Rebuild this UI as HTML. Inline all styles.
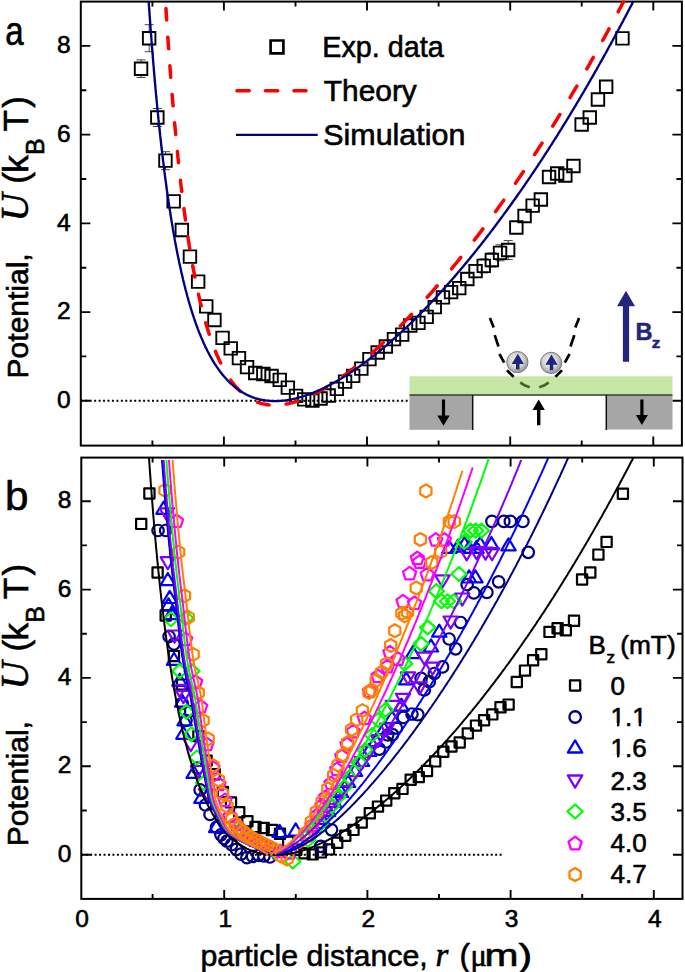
<!DOCTYPE html><html><head><meta charset="utf-8"><title>U(r)</title><style>html,body{margin:0;padding:0;background:#fff;overflow:hidden}svg{display:block}</style></head><body>
<svg width="685" height="972" viewBox="0 0 685 972" font-family="Liberation Sans, sans-serif">
<rect width="685" height="972" fill="#fff"/>
<path d="M80.8,400.8H408" stroke="#000" stroke-width="2" stroke-dasharray="2 2.45" fill="none"/>
<rect x="80.8" y="1.6" width="601.1" height="444.0" fill="none" stroke="#000" stroke-width="2"/>
<path d="M152.4,445.6v-5M152.4,1.6v5M223.9,445.6v-9M223.9,1.6v9M295.5,445.6v-5M295.5,1.6v5M367.0,445.6v-9M367.0,1.6v9M438.6,445.6v-5M438.6,1.6v5M510.2,445.6v-9M510.2,1.6v9M581.7,445.6v-5M581.7,1.6v5M653.3,445.6v-9M653.3,1.6v9M80.8,400.8h9.5M681.9,400.8h-9.5M80.8,356.4h5.5M681.9,356.4h-5.5M80.8,312.1h9.5M681.9,312.1h-9.5M80.8,267.7h5.5M681.9,267.7h-5.5M80.8,223.4h9.5M681.9,223.4h-9.5M80.8,179.0h5.5M681.9,179.0h-5.5M80.8,134.6h9.5M681.9,134.6h-9.5M80.8,90.3h5.5M681.9,90.3h-5.5M80.8,45.9h9.5M681.9,45.9h-9.5" stroke="#000" stroke-width="1.9" fill="none"/>
<rect x="81.3" y="457.6" width="601.2" height="441.3" fill="none" stroke="#000" stroke-width="2"/>
<path d="M152.6,898.9v-5M152.6,457.6v5M224.2,898.9v-9M224.2,457.6v9M295.8,898.9v-5M295.8,457.6v5M367.4,898.9v-9M367.4,457.6v9M439.0,898.9v-5M439.0,457.6v5M510.6,898.9v-9M510.6,457.6v9M582.2,898.9v-5M582.2,457.6v5M653.8,898.9v-9M653.8,457.6v9M81.3,854.7h9.5M682.5,854.7h-9.5M81.3,810.5h5.5M682.5,810.5h-5.5M81.3,766.3h9.5M682.5,766.3h-9.5M81.3,722.1h5.5M682.5,722.1h-5.5M81.3,677.9h9.5M682.5,677.9h-9.5M81.3,633.8h5.5M682.5,633.8h-5.5M81.3,589.6h9.5M682.5,589.6h-9.5M81.3,545.4h5.5M682.5,545.4h-5.5M81.3,501.2h9.5M682.5,501.2h-9.5" stroke="#000" stroke-width="1.9" fill="none"/>
<text stroke="#000" stroke-width="0.6" x="70.6" y="408.0" font-size="24.5" text-anchor="end">0</text>
<text stroke="#000" stroke-width="0.6" x="71.3" y="861.6" font-size="24.5" text-anchor="end">0</text>
<text stroke="#000" stroke-width="0.6" x="70.6" y="319.3" font-size="24.5" text-anchor="end">2</text>
<text stroke="#000" stroke-width="0.6" x="71.3" y="773.2" font-size="24.5" text-anchor="end">2</text>
<text stroke="#000" stroke-width="0.6" x="70.6" y="230.6" font-size="24.5" text-anchor="end">4</text>
<text stroke="#000" stroke-width="0.6" x="71.3" y="684.8" font-size="24.5" text-anchor="end">4</text>
<text stroke="#000" stroke-width="0.6" x="70.6" y="141.8" font-size="24.5" text-anchor="end">6</text>
<text stroke="#000" stroke-width="0.6" x="71.3" y="596.5" font-size="24.5" text-anchor="end">6</text>
<text stroke="#000" stroke-width="0.6" x="70.6" y="53.1" font-size="24.5" text-anchor="end">8</text>
<text stroke="#000" stroke-width="0.6" x="71.3" y="508.1" font-size="24.5" text-anchor="end">8</text>
<text stroke="#000" stroke-width="0.6" x="82.0" y="927.4" font-size="24.5" text-anchor="middle">0</text>
<text stroke="#000" stroke-width="0.6" x="225.2" y="927.4" font-size="24.5" text-anchor="middle">1</text>
<text stroke="#000" stroke-width="0.6" x="368.4" y="927.4" font-size="24.5" text-anchor="middle">2</text>
<text stroke="#000" stroke-width="0.6" x="511.6" y="927.4" font-size="24.5" text-anchor="middle">3</text>
<text stroke="#000" stroke-width="0.6" x="654.8" y="927.4" font-size="24.5" text-anchor="middle">4</text>
<text stroke="#000" stroke-width="0.6" x="5.2" y="45" font-size="40" textLength="18.4" lengthAdjust="spacingAndGlyphs">a</text>
<text stroke="#000" stroke-width="0.6" x="5" y="509.5" font-size="40.5" textLength="23.5" lengthAdjust="spacingAndGlyphs">b</text>
<g transform="translate(28,374.8) rotate(-90)"><text stroke="#000" stroke-width="0.6" x="-3.6" y="0" font-size="30">Potential,</text><text stroke="#000" stroke-width="0.6" x="153.2" y="0" font-size="39" font-family="Liberation Serif" font-style="italic">U</text><text stroke="#000" stroke-width="0.6" x="191.1" y="0" font-size="35">(</text><text stroke="#000" stroke-width="0.6" x="202.0" y="0" font-size="35">k</text><text stroke="#000" stroke-width="0.6" x="219.8" y="15.5" font-size="25">B</text><text stroke="#000" stroke-width="0.6" x="243.4" y="0" font-size="35">T</text><text stroke="#000" stroke-width="0.6" x="267" y="0" font-size="35">)</text></g>
<g transform="translate(28,842.6) rotate(-90)"><text stroke="#000" stroke-width="0.6" x="-3.6" y="0" font-size="30">Potential,</text><text stroke="#000" stroke-width="0.6" x="153.2" y="0" font-size="39" font-family="Liberation Serif" font-style="italic">U</text><text stroke="#000" stroke-width="0.6" x="191.1" y="0" font-size="35">(</text><text stroke="#000" stroke-width="0.6" x="202.0" y="0" font-size="35">k</text><text stroke="#000" stroke-width="0.6" x="219.8" y="15.5" font-size="25">B</text><text stroke="#000" stroke-width="0.6" x="243.4" y="0" font-size="35">T</text><text stroke="#000" stroke-width="0.6" x="267" y="0" font-size="35">)</text></g>
<text stroke="#000" stroke-width="0.6" x="200.4" y="965.5" font-size="30.3">particle distance,</text>
<text stroke="#000" stroke-width="0.6" x="435.4" y="965.5" font-size="33" font-family="Liberation Serif" font-style="italic">r</text>
<text stroke="#000" stroke-width="0.6" x="459.6" y="965.5" font-size="31.5">(</text>
<text stroke="#000" stroke-width="0.6" x="470.5" y="965.5" font-size="30.5" font-family="Liberation Serif">μ</text>
<text stroke="#000" stroke-width="0.6" x="484.6" y="965.5" font-size="31.5" textLength="47.5" lengthAdjust="spacingAndGlyphs">m)</text>
<path d="M141.0,59.9V62.5M141.0,75.0V77.5M136.5,59.9h9M136.5,77.5h9M149.2,24.7V32.0M149.2,44.5V51.7M144.7,24.7h9M144.7,51.7h9M157.3,108.5V111.2M157.3,123.8V126.5M152.8,108.5h9M152.8,126.5h9M165.5,151.7V154.4M165.5,166.9V169.7M161.0,151.7h9M161.0,169.7h9M451.1,286.2V285.9M451.1,298.4V298.2M446.6,286.2h9M446.6,298.2h9M459.2,282.2V281.9M459.2,294.4V294.2M454.7,282.2h9M454.7,294.2h9M467.4,273.0V272.8M467.4,285.2V285.0M462.9,273.0h9M462.9,285.0h9M475.6,265.2V264.9M475.6,277.4V277.2M471.1,265.2h9M471.1,277.2h9M483.7,258.9V259.6M483.7,272.1V272.9M479.2,258.9h9M479.2,272.9h9M491.9,253.0V253.8M491.9,266.2V267.0M487.4,253.0h9M487.4,267.0h9M500.0,244.8V246.6M500.0,259.1V260.8M495.5,244.8h9M495.5,260.8h9M508.2,240.6V243.8M508.2,256.4V259.6M503.7,240.6h9M503.7,259.6h9" stroke="#444" stroke-width="1" fill="none"/>
<path d="M134.8,62.5h12.5v12.5h-12.5zM142.9,32.0h12.5v12.5h-12.5zM151.1,111.2h12.5v12.5h-12.5zM159.2,154.4h12.5v12.5h-12.5zM167.4,195.1h12.5v12.5h-12.5zM175.6,223.8h12.5v12.5h-12.5zM183.7,250.4h12.5v12.5h-12.5zM191.9,275.4h12.5v12.5h-12.5zM200.0,300.1h12.5v12.5h-12.5zM208.2,313.8h12.5v12.5h-12.5zM216.3,331.6h12.5v12.5h-12.5zM224.5,342.1h12.5v12.5h-12.5zM232.7,351.9h12.5v12.5h-12.5zM240.8,360.9h12.5v12.5h-12.5zM249.0,366.8h12.5v12.5h-12.5zM257.1,367.8h12.5v12.5h-12.5zM265.3,369.8h12.5v12.5h-12.5zM273.5,373.6h12.5v12.5h-12.5zM281.6,381.4h12.5v12.5h-12.5zM289.8,389.6h12.5v12.5h-12.5zM297.9,393.1h12.5v12.5h-12.5zM306.1,394.2h12.5v12.5h-12.5zM314.3,392.2h12.5v12.5h-12.5zM322.4,389.2h12.5v12.5h-12.5zM330.6,382.6h12.5v12.5h-12.5zM338.8,375.4h12.5v12.5h-12.5zM346.9,369.6h12.5v12.5h-12.5zM355.1,362.4h12.5v12.5h-12.5zM363.2,352.9h12.5v12.5h-12.5zM371.4,346.2h12.5v12.5h-12.5zM379.6,340.2h12.5v12.5h-12.5zM387.7,332.9h12.5v12.5h-12.5zM395.9,328.4h12.5v12.5h-12.5zM404.0,319.2h12.5v12.5h-12.5zM412.2,316.6h12.5v12.5h-12.5zM420.4,310.6h12.5v12.5h-12.5zM428.5,300.9h12.5v12.5h-12.5zM436.7,291.1h12.5v12.5h-12.5zM444.8,285.9h12.5v12.5h-12.5zM453.0,281.9h12.5v12.5h-12.5zM461.1,272.8h12.5v12.5h-12.5zM469.3,264.9h12.5v12.5h-12.5zM477.5,259.6h12.5v12.5h-12.5zM485.6,253.8h12.5v12.5h-12.5zM493.8,246.6h12.5v12.5h-12.5zM501.9,243.8h12.5v12.5h-12.5zM510.1,221.2h12.5v12.5h-12.5zM518.3,209.8h12.5v12.5h-12.5zM526.4,199.4h12.5v12.5h-12.5zM534.6,193.2h12.5v12.5h-12.5zM542.8,170.8h12.5v12.5h-12.5zM550.9,167.2h12.5v12.5h-12.5zM559.1,169.2h12.5v12.5h-12.5zM567.2,159.8h12.5v12.5h-12.5zM575.4,118.2h12.5v12.5h-12.5zM583.5,111.2h12.5v12.5h-12.5zM591.7,93.2h12.5v12.5h-12.5zM599.9,80.5h12.5v12.5h-12.5zM616.2,32.1h12.5v12.5h-12.5z" stroke="#000" stroke-width="1.9" fill="none"/>
<path d="M166.0,8.6 L166.0,9.7 L166.1,10.7 L166.2,11.7 L166.2,12.9 L166.3,14.0 L166.4,15.1 L166.5,16.2 L166.5,17.3 L166.6,18.4 L166.7,19.5 L166.7,20.1M167.8,37.2 L167.9,38.2 L168.0,39.2 L168.1,40.3 L168.1,41.3 L168.2,42.3 L168.3,43.4 L168.3,44.4 L168.4,45.4 L168.5,46.4 L168.6,47.4 L168.6,48.4 L168.7,48.7M169.9,65.7 L170.0,66.8 L170.1,67.9 L170.1,69.0 L170.2,70.1 L170.3,71.1 L170.4,72.2 L170.5,73.3 L170.5,74.3 L170.6,75.4 L170.7,76.4 L170.8,77.2M172.1,94.4 L172.2,95.6 L172.3,96.7 L172.4,97.9 L172.5,99.0 L172.6,100.2 L172.7,101.3 L172.8,102.4 L172.9,103.6 L173.0,104.7 L173.1,105.8M174.6,122.8 L174.7,123.9 L174.8,124.9 L174.9,126.0 L175.0,127.0 L175.1,128.0 L175.2,129.1 L175.3,130.1 L175.4,131.1 L175.5,132.1 L175.6,133.1 L175.7,134.1 L175.7,134.4M177.4,151.5 L177.5,152.7 L177.6,153.8 L177.7,154.9 L177.8,156.0 L177.9,157.1 L178.0,158.2 L178.2,159.3 L178.3,160.4 L178.4,161.5 L178.5,162.5 L178.5,162.8M180.5,180.2 L180.6,181.5 L180.7,182.7 L180.9,184.0 L181.0,185.2 L181.2,186.4 L181.3,187.6 L181.5,188.8 L181.6,190.0 L181.7,191.2 L181.8,191.4M183.9,208.6 L184.1,209.6 L184.2,210.7 L184.4,211.8 L184.5,212.9 L184.6,213.9 L184.8,215.0 L184.9,216.1 L185.1,217.1 L185.2,218.1 L185.4,219.2 L185.5,220.0M188.0,237.1 L188.1,238.2 L188.3,239.3 L188.5,240.3 L188.6,241.4 L188.8,242.4 L189.0,243.5 L189.1,244.5 L189.3,245.5 L189.4,246.5 L189.6,247.5 L189.8,248.6M192.7,265.8 L192.9,266.8 L193.1,267.9 L193.3,268.9 L193.5,269.9 L193.7,270.9 L193.9,271.9 L194.1,273.0 L194.3,274.2 L194.5,275.4 L194.8,276.5 L194.9,277.1M198.5,294.3 L198.7,295.4 L199.0,296.4 L199.2,297.4 L199.5,298.6 L199.8,299.9 L200.0,301.1 L200.3,302.3 L200.6,303.5 L200.9,304.7 L201.2,305.8M205.7,322.9 L206.1,324.1 L206.4,325.2 L206.8,326.4 L207.1,327.5 L207.5,328.7 L207.8,329.8 L208.1,330.9 L208.5,332.0 L208.8,333.0 L209.2,334.1 L209.3,334.3M215.5,351.4 L215.9,352.5 L216.4,353.6 L216.8,354.7 L217.3,355.7 L217.8,356.8 L218.2,357.8 L218.7,358.8 L219.2,360.0 L219.8,361.2 L220.4,362.4 L220.7,363.0M230.8,380.2 L231.7,381.5 L232.6,382.6 L233.5,383.7 L234.3,384.8 L235.2,385.8 L236.3,387.1 L237.4,388.3 L238.5,389.5 L239.7,390.6 L240.4,391.4M257.7,402.3 L258.9,402.7 L260.0,403.1 L261.1,403.4 L262.1,403.7 L263.1,403.9 L264.2,404.1 L265.2,404.3 L266.2,404.5 L267.3,404.7 L268.3,404.8 L269.1,404.9M286.1,404.1 L287.1,403.9 L288.1,403.7 L289.2,403.4 L290.2,403.2 L291.2,402.9 L292.3,402.7 L293.3,402.4 L294.3,402.1 L295.4,401.8 L296.4,401.5 L297.5,401.1M314.7,393.8 L315.9,393.2 L317.0,392.6 L318.1,392.0 L319.3,391.3 L320.4,390.7 L321.6,390.1 L322.7,389.4 L323.9,388.7 L325.0,388.1 L326.2,387.4M343.2,376.0 L344.2,375.3 L345.2,374.6 L346.2,373.8 L347.2,373.1 L348.2,372.3 L349.2,371.6 L350.2,370.8 L351.2,370.0 L352.2,369.3 L353.2,368.5 L354.2,367.7 L354.7,367.3M371.8,353.1 L372.8,352.2 L373.8,351.3 L374.8,350.4 L375.8,349.5 L376.8,348.6 L377.8,347.7 L378.8,346.8 L379.8,345.8 L380.8,344.9 L381.8,344.0 L382.8,343.1 L383.3,342.6M400.3,326.0 L401.5,324.8 L402.6,323.7 L403.7,322.5 L404.9,321.3 L406.0,320.1 L407.2,318.9 L408.3,317.7 L409.5,316.5 L410.6,315.3 L411.5,314.4M427.2,297.3 L428.4,296.0 L429.5,294.7 L430.7,293.4 L431.8,292.1 L433.0,290.8 L434.1,289.5 L435.2,288.1 L436.4,286.8 L437.2,285.8M451.6,268.8 L452.4,267.8 L453.3,266.7 L454.1,265.7 L455.0,264.6 L455.9,263.5 L456.7,262.5 L457.6,261.4 L458.4,260.4 L459.3,259.3 L460.2,258.2 L460.8,257.4M474.3,240.1 L475.2,239.0 L476.0,237.9 L476.9,236.8 L477.8,235.6 L478.6,234.5 L479.5,233.4 L480.3,232.2 L481.2,231.1 L482.1,229.9 L482.9,228.8M495.6,211.6 L496.5,210.3 L497.5,208.9 L498.4,207.6 L499.2,206.5 L499.9,205.5 L500.6,204.5 L501.3,203.5 L502.1,202.5 L502.8,201.5 L503.5,200.5 L503.7,200.2M515.5,183.2 L516.2,182.2 L516.9,181.1 L517.6,180.1 L518.3,179.0 L519.1,178.0 L519.8,176.9 L520.5,175.9 L521.2,174.8 L521.9,173.7 L522.6,172.7 L523.4,171.6M534.6,154.5 L535.3,153.4 L536.1,152.3 L536.8,151.2 L537.5,150.1 L538.2,149.0 L538.9,147.9 L539.6,146.8 L540.4,145.7 L541.1,144.6 L541.8,143.4 L542.0,143.2M552.7,126.1 L553.4,125.0 L554.1,123.8 L554.8,122.7 L555.6,121.5 L556.3,120.3 L557.0,119.2 L557.7,118.0 L558.4,116.8 L559.1,115.7 L559.9,114.5M570.1,97.6 L570.8,96.4 L571.5,95.2 L572.2,94.0 L572.9,92.7 L573.6,91.5 L574.4,90.3 L575.1,89.1 L575.8,87.9 L576.5,86.7 L576.9,86.1M586.8,68.8 L587.4,67.8 L588.0,66.8 L588.6,65.8 L589.1,64.8 L589.7,63.8 L590.3,62.7 L590.9,61.7 L591.4,60.7 L592.0,59.7 L592.6,58.7 L593.1,57.7 L593.3,57.4M602.7,40.4 L603.3,39.4 L603.9,38.3 L604.5,37.3 L605.0,36.3 L605.6,35.2 L606.2,34.2 L606.7,33.1 L607.3,32.1 L607.9,31.0 L608.5,29.9 L609.0,28.9M618.2,11.8 L618.8,10.7 L619.3,9.6 L619.9,8.5 L620.5,7.5 L621.1,6.4 L621.6,5.3 L622.2,4.2 L622.8,3.1 L623.4,2.0" fill="none" stroke="#f00" stroke-width="3.5" stroke-linecap="round"/>
<path d="M148.7,2.0 L148.9,5.1 L149.1,7.2 L149.2,9.2 L149.4,11.3 L149.5,13.3 L149.6,15.3 L149.8,17.3 L149.9,19.3 L150.1,21.3 L150.2,23.3 L150.4,25.2 L150.5,27.2 L150.6,29.1 L150.8,31.0 L150.9,32.9 L151.1,34.8 L151.2,36.7 L151.4,38.6 L151.5,40.4 L151.7,42.3 L151.8,44.1 L151.9,46.0 L152.1,47.8 L152.2,49.6 L152.4,51.4 L152.5,53.2 L152.7,54.9 L152.8,56.7 L152.9,58.5 L153.1,60.2 L153.2,61.9 L153.4,63.7 L153.5,65.4 L153.7,67.1 L153.8,68.8 L153.9,70.5 L154.1,72.2 L154.2,73.8 L154.4,75.5 L154.5,77.1 L154.7,78.8 L154.8,80.4 L154.9,82.0 L155.1,83.6 L155.2,85.2 L155.4,86.8 L155.5,88.4 L155.7,90.0 L155.8,91.5 L155.9,93.1 L156.1,94.6 L156.2,96.2 L156.4,97.7 L156.5,99.2 L156.7,100.7 L156.8,102.2 L156.9,103.7 L157.1,105.2 L157.2,106.7 L157.4,108.2 L157.5,109.6 L157.7,111.1 L157.8,112.5 L158.0,114.0 L158.1,115.4 L158.2,116.8 L158.4,118.2 L158.5,119.7 L158.7,121.1 L158.8,122.4 L159.0,123.8 L159.1,125.2 L159.2,126.6 L159.4,127.9 L159.5,129.3 L159.7,130.6 L159.8,132.0 L160.0,133.3 L160.1,134.6 L160.2,135.9 L160.4,137.3 L160.5,138.6 L160.7,139.9 L160.8,141.1 L161.0,142.4 L161.1,143.7 L161.2,145.0 L161.4,146.2 L161.5,147.5 L161.7,148.7 L161.8,150.0 L162.0,151.2 L162.1,152.4 L162.2,153.7 L162.4,154.9 L162.5,156.1 L162.7,157.3 L162.8,158.5 L163.1,160.9 L163.4,163.2 L163.7,165.5 L164.0,167.8 L164.2,170.1 L164.5,172.4 L164.8,174.6 L165.1,176.8 L165.4,179.0 L165.7,181.2 L166.0,183.3 L166.3,185.4 L166.5,187.5 L166.8,189.6 L167.1,191.7 L167.4,193.7 L167.7,195.7 L168.0,197.7 L168.3,199.7 L168.5,201.6 L168.8,203.5 L169.1,205.5 L169.4,207.4 L169.7,209.2 L170.0,211.1 L170.3,212.9 L170.5,214.8 L170.8,216.6 L171.1,218.3 L171.4,220.1 L171.7,221.9 L172.0,223.6 L172.3,225.3 L172.6,227.0 L172.8,228.7 L173.1,230.4 L173.4,232.0 L173.7,233.7 L174.0,235.3 L174.3,236.9 L174.6,238.5 L174.8,240.0 L175.1,241.6 L175.4,243.1 L175.7,244.7 L176.0,246.2 L176.3,247.7 L176.6,249.2 L176.8,250.6 L177.1,252.1 L177.4,253.5 L177.7,255.0 L178.0,256.4 L178.3,257.8 L178.6,259.2 L178.9,260.6 L179.1,261.9 L179.4,263.3 L179.7,264.6 L180.0,266.0 L180.3,267.3 L180.6,268.6 L180.9,269.9 L181.1,271.1 L181.4,272.4 L181.7,273.7 L182.0,274.9 L182.3,276.1 L182.6,277.4 L182.9,278.6 L183.1,279.8 L183.4,281.0 L183.7,282.1 L184.0,283.3 L184.4,285.0 L184.9,286.7 L185.3,288.4 L185.7,290.1 L186.2,291.7 L186.6,293.3 L187.0,294.9 L187.4,296.5 L187.9,298.1 L188.3,299.6 L188.7,301.1 L189.2,302.6 L189.6,304.1 L190.0,305.5 L190.4,307.0 L190.9,308.4 L191.3,309.8 L191.7,311.2 L192.2,312.5 L192.6,313.9 L193.0,315.2 L193.5,316.5 L193.9,317.8 L194.3,319.0 L194.7,320.3 L195.2,321.5 L195.6,322.8 L196.0,324.0 L196.5,325.2 L196.9,326.3 L197.3,327.5 L197.7,328.6 L198.2,329.8 L198.7,331.2 L199.3,332.7 L199.9,334.1 L200.5,335.5 L201.0,336.9 L201.6,338.3 L202.2,339.6 L202.8,340.9 L203.3,342.2 L203.9,343.5 L204.5,344.7 L205.0,346.0 L205.6,347.2 L206.2,348.4 L206.8,349.5 L207.3,350.7 L207.9,351.8 L208.5,352.9 L209.1,354.0 L209.6,355.0 L210.3,356.3 L211.1,357.6 L211.8,358.9 L212.5,360.1 L213.2,361.3 L213.9,362.5 L214.6,363.6 L215.4,364.7 L216.1,365.8 L216.8,366.9 L217.5,367.9 L218.2,368.9 L218.9,369.9 L219.7,370.9 L220.5,372.1 L221.4,373.2 L222.2,374.3 L223.1,375.3 L223.9,376.3 L224.8,377.3 L225.7,378.3 L226.5,379.2 L227.4,380.1 L228.2,381.0 L229.1,381.9 L230.1,382.9 L231.1,383.8 L232.1,384.7 L233.1,385.6 L234.1,386.4 L235.1,387.3 L236.1,388.0 L237.1,388.8 L238.1,389.5 L239.1,390.2 L240.1,390.9 L241.3,391.6 L242.4,392.3 L243.6,393.0 L244.7,393.6 L245.8,394.3 L247.0,394.8 L248.1,395.4 L249.3,395.9 L250.4,396.4 L251.6,396.8 L252.7,397.3 L253.9,397.7 L255.0,398.1 L256.3,398.5 L257.6,398.8 L258.9,399.2 L260.2,399.5 L261.5,399.8 L262.7,400.0 L264.0,400.2 L265.3,400.4 L266.6,400.6 L267.9,400.7 L269.2,400.9 L270.5,400.9 L271.8,401.0 L273.0,401.1 L274.3,401.1 L275.6,401.1 L276.9,401.1 L278.2,401.0 L279.5,400.9 L280.8,400.8 L282.1,400.7 L283.4,400.6 L284.6,400.5 L285.9,400.3 L287.2,400.1 L288.5,399.9 L289.8,399.7 L291.1,399.4 L292.4,399.2 L293.7,398.9 L295.0,398.6 L296.2,398.3 L297.5,397.9 L298.8,397.6 L300.1,397.2 L301.4,396.9 L302.7,396.5 L303.8,396.1 L305.0,395.7 L306.1,395.3 L307.3,394.9 L308.4,394.5 L309.6,394.1 L310.7,393.7 L311.8,393.2 L313.0,392.8 L314.1,392.3 L315.3,391.8 L316.4,391.3 L317.6,390.9 L318.7,390.3 L319.9,389.8 L321.0,389.3 L322.1,388.8 L323.3,388.2 L324.4,387.7 L325.6,387.1 L326.7,386.5 L327.9,385.9 L329.0,385.3 L330.2,384.7 L331.3,384.1 L332.5,383.5 L333.6,382.9 L334.7,382.2 L335.9,381.6 L337.0,380.9 L338.2,380.3 L339.3,379.6 L340.5,378.9 L341.6,378.2 L342.8,377.5 L343.9,376.8 L345.1,376.1 L346.2,375.4 L347.3,374.7 L348.5,373.9 L349.6,373.2 L350.8,372.4 L351.8,371.7 L352.8,371.1 L353.8,370.4 L354.8,369.7 L355.8,369.0 L356.8,368.3 L357.8,367.6 L358.8,366.9 L359.8,366.2 L360.8,365.5 L361.8,364.8 L362.8,364.0 L363.8,363.3 L364.8,362.6 L365.8,361.8 L366.8,361.1 L367.8,360.3 L368.8,359.5 L369.8,358.8 L370.8,358.0 L371.8,357.2 L372.8,356.4 L373.8,355.7 L374.8,354.9 L375.8,354.1 L376.8,353.3 L377.8,352.5 L378.8,351.6 L379.8,350.8 L380.8,350.0 L381.8,349.2 L382.8,348.3 L383.9,347.5 L384.9,346.7 L385.9,345.8 L386.9,345.0 L387.9,344.1 L388.9,343.2 L389.9,342.4 L390.9,341.5 L391.9,340.6 L392.9,339.7 L393.9,338.8 L394.9,337.9 L395.9,337.0 L396.9,336.1 L397.9,335.2 L398.9,334.3 L399.9,333.4 L400.9,332.5 L401.9,331.6 L402.9,330.6 L403.9,329.7 L404.9,328.8 L405.9,327.8 L406.9,326.9 L407.9,325.9 L408.9,325.0 L409.9,324.0 L410.9,323.0 L411.9,322.1 L412.9,321.1 L413.8,320.2 L414.6,319.4 L415.5,318.5 L416.3,317.7 L417.2,316.8 L418.1,316.0 L418.9,315.1 L419.8,314.3 L420.6,313.4 L421.5,312.5 L422.4,311.6 L423.2,310.8 L424.1,309.9 L424.9,309.0 L425.8,308.1 L426.7,307.2 L427.5,306.3 L428.4,305.4 L429.2,304.5 L430.1,303.6 L430.9,302.7 L431.8,301.8 L432.7,300.9 L433.5,300.0 L434.4,299.1 L435.2,298.2 L436.1,297.2 L437.0,296.3 L437.8,295.4 L438.7,294.4 L439.5,293.5 L440.4,292.6 L441.3,291.6 L442.1,290.7 L443.0,289.7 L443.8,288.8 L444.7,287.8 L445.6,286.8 L446.4,285.9 L447.3,284.9 L448.1,283.9 L449.0,283.0 L449.8,282.0 L450.7,281.0 L451.6,280.0 L452.4,279.0 L453.3,278.1 L454.1,277.1 L455.0,276.1 L455.9,275.1 L456.7,274.1 L457.6,273.1 L458.4,272.1 L459.3,271.1 L460.2,270.0 L461.0,269.0 L461.9,268.0 L462.7,267.0 L463.6,266.0 L464.4,264.9 L465.3,263.9 L466.2,262.9 L467.0,261.8 L467.9,260.8 L468.7,259.7 L469.6,258.7 L470.5,257.6 L471.3,256.6 L472.2,255.5 L473.0,254.5 L473.9,253.4 L474.8,252.3 L475.6,251.3 L476.5,250.2 L477.3,249.1 L478.2,248.0 L479.0,247.0 L479.9,245.9 L480.8,244.8 L481.6,243.7 L482.5,242.6 L483.3,241.5 L484.2,240.4 L485.1,239.3 L485.9,238.2 L486.8,237.1 L487.6,236.0 L488.5,234.8 L489.4,233.7 L490.2,232.6 L491.1,231.5 L491.9,230.4 L492.8,229.2 L493.7,228.1 L494.5,226.9 L495.4,225.8 L496.2,224.7 L497.1,223.5 L497.9,222.4 L498.8,221.2 L499.5,220.3 L500.2,219.3 L501.0,218.3 L501.7,217.3 L502.4,216.4 L503.1,215.4 L503.8,214.4 L504.5,213.4 L505.2,212.5 L506.0,211.5 L506.7,210.5 L507.4,209.5 L508.1,208.5 L508.8,207.5 L509.5,206.5 L510.3,205.5 L511.0,204.5 L511.7,203.5 L512.4,202.5 L513.1,201.5 L513.8,200.5 L514.6,199.5 L515.3,198.5 L516.0,197.5 L516.7,196.5 L517.4,195.5 L518.1,194.4 L518.8,193.4 L519.6,192.4 L520.3,191.4 L521.0,190.3 L521.7,189.3 L522.4,188.3 L523.1,187.2 L523.9,186.2 L524.6,185.2 L525.3,184.1 L526.0,183.1 L526.7,182.0 L527.4,181.0 L528.2,179.9 L528.9,178.9 L529.6,177.8 L530.3,176.8 L531.0,175.7 L531.7,174.7 L532.4,173.6 L533.2,172.5 L533.9,171.5 L534.6,170.4 L535.3,169.3 L536.0,168.3 L536.7,167.2 L537.5,166.1 L538.2,165.0 L538.9,163.9 L539.6,162.8 L540.3,161.8 L541.0,160.7 L541.8,159.6 L542.5,158.5 L543.2,157.4 L543.9,156.3 L544.6,155.2 L545.3,154.1 L546.0,153.0 L546.8,151.9 L547.5,150.8 L548.2,149.7 L548.9,148.5 L549.6,147.4 L550.3,146.3 L551.1,145.2 L551.8,144.1 L552.5,142.9 L553.2,141.8 L553.9,140.7 L554.6,139.6 L555.4,138.4 L556.1,137.3 L556.8,136.2 L557.5,135.0 L558.2,133.9 L558.9,132.7 L559.6,131.6 L560.4,130.4 L561.1,129.3 L561.8,128.1 L562.5,127.0 L563.2,125.8 L563.9,124.7 L564.7,123.5 L565.4,122.3 L566.1,121.2 L566.8,120.0 L567.5,118.8 L568.2,117.6 L569.0,116.5 L569.7,115.3 L570.4,114.1 L571.1,112.9 L571.8,111.7 L572.5,110.6 L573.2,109.4 L574.0,108.2 L574.7,107.0 L575.4,105.8 L576.1,104.6 L576.8,103.4 L577.5,102.2 L578.3,101.0 L579.0,99.8 L579.7,98.6 L580.4,97.4 L581.1,96.1 L581.8,94.9 L582.6,93.7 L583.3,92.5 L584.0,91.3 L584.7,90.0 L585.4,88.8 L586.1,87.6 L586.8,86.3 L587.6,85.1 L588.3,83.9 L589.0,82.6 L589.7,81.4 L590.4,80.1 L591.1,78.9 L591.9,77.7 L592.6,76.4 L593.3,75.1 L594.0,73.9 L594.7,72.6 L595.4,71.4 L596.2,70.1 L596.9,68.9 L597.6,67.6 L598.3,66.3 L599.0,65.0 L599.7,63.8 L600.4,62.5 L601.2,61.2 L601.9,59.9 L602.6,58.7 L603.3,57.4 L604.0,56.1 L604.7,54.8 L605.5,53.5 L606.2,52.2 L606.9,50.9 L607.6,49.6 L608.3,48.3 L609.0,47.0 L609.7,45.7 L610.5,44.4 L611.2,43.1 L611.9,41.8 L612.6,40.5 L613.3,39.1 L613.9,38.1 L614.5,37.0 L615.0,36.0 L615.6,34.9 L616.2,33.8 L616.8,32.8 L617.3,31.7 L617.9,30.6 L618.5,29.6 L619.1,28.5 L619.6,27.4 L620.2,26.4 L620.8,25.3 L621.3,24.2 L621.9,23.1 L622.5,22.1 L623.1,21.0 L623.6,19.9 L624.2,18.8 L624.8,17.7 L625.4,16.6 L625.9,15.6 L626.5,14.5 L627.1,13.4 L627.6,12.3 L628.2,11.2 L628.8,10.1 L629.4,9.0 L629.9,7.9 L630.5,6.8 L631.1,5.7 L631.7,4.6 L632.2,3.5 L632.8,2.4 L633.0,2.0" fill="none" stroke="#000080" stroke-width="2.35"/>
<path d="M270.6,40.5h12.8v12.8h-12.8z" stroke="#000" stroke-width="2.7" fill="none"/>
<path d="M237,90.8H306" stroke="#f00" stroke-width="3.6" stroke-linecap="round" stroke-dasharray="12.2 16.3"/>
<path d="M236,134.9H317.7" stroke="#000080" stroke-width="2.35"/>
<text stroke="#000" stroke-width="0.6" x="322.3" y="57.2" font-size="29.5" textLength="121.5" lengthAdjust="spacingAndGlyphs">Exp. data</text>
<text stroke="#000" stroke-width="0.6" x="323.8" y="101" font-size="29.5" textLength="93" lengthAdjust="spacingAndGlyphs">Theory</text>
<text stroke="#000" stroke-width="0.6" x="323.3" y="145.3" font-size="29.5" textLength="142" lengthAdjust="spacingAndGlyphs">Simulation</text>
<rect x="409.5" y="376.3" width="263" height="18.2" fill="#c6e6a6"/>
<rect x="409.5" y="395.2" width="63.5" height="34.6" fill="#a6a6a6"/>
<rect x="606" y="395.2" width="66.5" height="34.3" fill="#a6a6a6"/>
<path d="M409.5,395H672.5" stroke="#2c3a26" stroke-width="1.5" fill="none"/>
<path d="M472.7,395V430M606.3,395V430" stroke="#111" stroke-width="1.5" fill="none"/>
<path d="M441.9,399.4V415.5H437.3L443.5,425.7L449.7,415.5H445.1V399.4z" fill="#000"/>
<path d="M640.3,399.4V415.0H635.9L641.9,424.9L647.9,415.0H643.5V399.4z" fill="#000"/>
<path d="M537.0,425.2V410.0H532.5L538.7,399.6L544.9,410.0H540.4V425.2z" fill="#000"/>
<path d="M622.9,361.8V306.3H617.0L626.0,290.7L635.0,306.3H629.1V361.8z" fill="#24247c"/>
<text stroke="#24247c" stroke-width="0.5" x="635.6" y="340.3" font-size="23.5" font-weight="bold" fill="#24247c">B</text>
<text stroke="#24247c" stroke-width="0.5" x="651.8" y="348" font-size="15" font-weight="bold" fill="#24247c" textLength="8.6" lengthAdjust="spacingAndGlyphs">z</text>
<path d="M489.9,318L493.7,327.5M494.7,335.1L498.5,346.5M499.4,354L504.2,362.6M507,370.2L513.6,376.9M579.1,318L575.3,327.5M574.3,335.1L570.5,346.5M569.6,354L564.8,362.6M562.0,370.2L555.4,376.9" fill="none" stroke="#000" stroke-width="2.7"/>
<path d="M520.3,382.5L525,385.6L529.8,387.3M548.7,382.5L544.0,385.6L539.2,387.3" fill="none" stroke="#3c6a26" stroke-width="2.7"/>
<defs><radialGradient id="sg" cx="0.45" cy="0.42" r="0.6"><stop offset="0" stop-color="#f6f6f6"/><stop offset="0.55" stop-color="#d6d6d6"/><stop offset="1" stop-color="#8e8e8e"/></radialGradient></defs>
<circle cx="517.4" cy="362.1" r="10.6" fill="url(#sg)" stroke="#7a7a7a" stroke-width="1"/>
<path d="M516.0,369.5V363.9H511.7L517.8,353.7L523.9,363.9H519.5V369.5z" fill="#22227f"/>
<circle cx="551.1" cy="362.9" r="10.6" fill="url(#sg)" stroke="#7a7a7a" stroke-width="1"/>
<path d="M549.8,370.3V364.7H545.4L551.5,354.5L557.6,364.7H553.2V370.3z" fill="#22227f"/>
<path d="M136.1,518.8h10.2v10.2h-10.2zM144.3,488.4h10.2v10.2h-10.2zM152.5,567.4h10.2v10.2h-10.2zM160.6,610.4h10.2v10.2h-10.2zM168.8,650.9h10.2v10.2h-10.2zM177.0,679.5h10.2v10.2h-10.2zM185.1,706.0h10.2v10.2h-10.2zM193.3,731.0h10.2v10.2h-10.2zM201.5,755.5h10.2v10.2h-10.2zM209.6,769.1h10.2v10.2h-10.2zM217.8,786.8h10.2v10.2h-10.2zM225.9,797.3h10.2v10.2h-10.2zM234.1,807.2h10.2v10.2h-10.2zM242.3,816.1h10.2v10.2h-10.2zM250.4,821.9h10.2v10.2h-10.2zM258.6,822.9h10.2v10.2h-10.2zM266.8,824.9h10.2v10.2h-10.2zM274.9,828.7h10.2v10.2h-10.2zM283.1,836.6h10.2v10.2h-10.2zM291.3,844.6h10.2v10.2h-10.2zM299.4,848.2h10.2v10.2h-10.2zM307.6,849.3h10.2v10.2h-10.2zM315.8,847.3h10.2v10.2h-10.2zM323.9,844.3h10.2v10.2h-10.2zM332.1,837.6h10.2v10.2h-10.2zM340.2,830.6h10.2v10.2h-10.2zM348.4,824.8h10.2v10.2h-10.2zM356.6,817.5h10.2v10.2h-10.2zM364.7,808.2h10.2v10.2h-10.2zM372.9,801.5h10.2v10.2h-10.2zM381.1,795.5h10.2v10.2h-10.2zM389.2,788.1h10.2v10.2h-10.2zM397.4,783.8h10.2v10.2h-10.2zM405.6,774.6h10.2v10.2h-10.2zM413.7,772.0h10.2v10.2h-10.2zM421.9,765.9h10.2v10.2h-10.2zM430.1,756.3h10.2v10.2h-10.2zM438.2,746.6h10.2v10.2h-10.2zM446.4,741.4h10.2v10.2h-10.2zM454.6,737.4h10.2v10.2h-10.2zM462.7,728.3h10.2v10.2h-10.2zM470.9,720.5h10.2v10.2h-10.2zM479.0,715.2h10.2v10.2h-10.2zM487.2,709.3h10.2v10.2h-10.2zM495.4,702.2h10.2v10.2h-10.2zM503.5,699.5h10.2v10.2h-10.2zM511.7,676.9h10.2v10.2h-10.2zM519.9,665.5h10.2v10.2h-10.2zM528.0,655.2h10.2v10.2h-10.2zM536.2,649.1h10.2v10.2h-10.2zM544.4,626.8h10.2v10.2h-10.2zM552.5,623.2h10.2v10.2h-10.2zM560.7,625.2h10.2v10.2h-10.2zM568.9,615.7h10.2v10.2h-10.2zM577.0,574.4h10.2v10.2h-10.2zM585.2,567.4h10.2v10.2h-10.2zM593.3,549.5h10.2v10.2h-10.2zM601.5,536.8h10.2v10.2h-10.2zM617.8,488.6h10.2v10.2h-10.2z" fill="none" stroke="#000" stroke-width="2.2" stroke-linejoin="round"/>
<path d="M152.3,530.5a5.75,5.75 0 1,0 11.5,0a5.75,5.75 0 1,0 -11.5,0zM159.9,530.5a5.75,5.75 0 1,0 11.5,0a5.75,5.75 0 1,0 -11.5,0zM163.3,636.5a5.75,5.75 0 1,0 11.5,0a5.75,5.75 0 1,0 -11.5,0zM168.2,644.0a5.75,5.75 0 1,0 11.5,0a5.75,5.75 0 1,0 -11.5,0zM176.4,703.3a5.75,5.75 0 1,0 11.5,0a5.75,5.75 0 1,0 -11.5,0zM180.2,720.5a5.75,5.75 0 1,0 11.5,0a5.75,5.75 0 1,0 -11.5,0zM191.7,768.1a5.75,5.75 0 1,0 11.5,0a5.75,5.75 0 1,0 -11.5,0zM194.4,789.9a5.75,5.75 0 1,0 11.5,0a5.75,5.75 0 1,0 -11.5,0zM199.7,805.0a5.75,5.75 0 1,0 11.5,0a5.75,5.75 0 1,0 -11.5,0zM204.3,814.4a5.75,5.75 0 1,0 11.5,0a5.75,5.75 0 1,0 -11.5,0zM210.8,827.4a5.75,5.75 0 1,0 11.5,0a5.75,5.75 0 1,0 -11.5,0zM215.2,834.8a5.75,5.75 0 1,0 11.5,0a5.75,5.75 0 1,0 -11.5,0zM218.2,838.5a5.75,5.75 0 1,0 11.5,0a5.75,5.75 0 1,0 -11.5,0zM221.2,841.2a5.75,5.75 0 1,0 11.5,0a5.75,5.75 0 1,0 -11.5,0zM225.9,844.7a5.75,5.75 0 1,0 11.5,0a5.75,5.75 0 1,0 -11.5,0zM230.7,849.4a5.75,5.75 0 1,0 11.5,0a5.75,5.75 0 1,0 -11.5,0zM235.3,854.1a5.75,5.75 0 1,0 11.5,0a5.75,5.75 0 1,0 -11.5,0zM241.2,857.6a5.75,5.75 0 1,0 11.5,0a5.75,5.75 0 1,0 -11.5,0zM246.9,856.4a5.75,5.75 0 1,0 11.5,0a5.75,5.75 0 1,0 -11.5,0zM252.9,855.3a5.75,5.75 0 1,0 11.5,0a5.75,5.75 0 1,0 -11.5,0zM258.2,856.0a5.75,5.75 0 1,0 11.5,0a5.75,5.75 0 1,0 -11.5,0zM264.2,857.0a5.75,5.75 0 1,0 11.5,0a5.75,5.75 0 1,0 -11.5,0zM314.9,846.3a5.75,5.75 0 1,0 11.5,0a5.75,5.75 0 1,0 -11.5,0zM325.8,829.8a5.75,5.75 0 1,0 11.5,0a5.75,5.75 0 1,0 -11.5,0zM373.6,749.1a5.75,5.75 0 1,0 11.5,0a5.75,5.75 0 1,0 -11.5,0zM380.2,742.0a5.75,5.75 0 1,0 11.5,0a5.75,5.75 0 1,0 -11.5,0zM386.8,734.7a5.75,5.75 0 1,0 11.5,0a5.75,5.75 0 1,0 -11.5,0zM381.9,735.0a5.75,5.75 0 1,0 11.5,0a5.75,5.75 0 1,0 -11.5,0zM390.6,728.0a5.75,5.75 0 1,0 11.5,0a5.75,5.75 0 1,0 -11.5,0zM397.6,717.5a5.75,5.75 0 1,0 11.5,0a5.75,5.75 0 1,0 -11.5,0zM406.2,714.0a5.75,5.75 0 1,0 11.5,0a5.75,5.75 0 1,0 -11.5,0zM412.1,714.6a5.75,5.75 0 1,0 11.5,0a5.75,5.75 0 1,0 -11.5,0zM418.6,689.9a5.75,5.75 0 1,0 11.5,0a5.75,5.75 0 1,0 -11.5,0zM423.6,681.7a5.75,5.75 0 1,0 11.5,0a5.75,5.75 0 1,0 -11.5,0zM415.4,678.4a5.75,5.75 0 1,0 11.5,0a5.75,5.75 0 1,0 -11.5,0zM428.6,673.5a5.75,5.75 0 1,0 11.5,0a5.75,5.75 0 1,0 -11.5,0zM436.8,666.9a5.75,5.75 0 1,0 11.5,0a5.75,5.75 0 1,0 -11.5,0zM443.4,639.0a5.75,5.75 0 1,0 11.5,0a5.75,5.75 0 1,0 -11.5,0zM449.9,648.8a5.75,5.75 0 1,0 11.5,0a5.75,5.75 0 1,0 -11.5,0zM454.9,622.5a5.75,5.75 0 1,0 11.5,0a5.75,5.75 0 1,0 -11.5,0zM461.4,584.7a5.75,5.75 0 1,0 11.5,0a5.75,5.75 0 1,0 -11.5,0zM468.1,592.9a5.75,5.75 0 1,0 11.5,0a5.75,5.75 0 1,0 -11.5,0zM481.1,592.4a5.75,5.75 0 1,0 11.5,0a5.75,5.75 0 1,0 -11.5,0zM492.9,581.8a5.75,5.75 0 1,0 11.5,0a5.75,5.75 0 1,0 -11.5,0zM486.2,521.4a5.75,5.75 0 1,0 11.5,0a5.75,5.75 0 1,0 -11.5,0zM498.1,521.4a5.75,5.75 0 1,0 11.5,0a5.75,5.75 0 1,0 -11.5,0zM504.6,521.4a5.75,5.75 0 1,0 11.5,0a5.75,5.75 0 1,0 -11.5,0zM517.1,521.4a5.75,5.75 0 1,0 11.5,0a5.75,5.75 0 1,0 -11.5,0zM522.5,552.3a5.75,5.75 0 1,0 11.5,0a5.75,5.75 0 1,0 -11.5,0z" fill="none" stroke="#000080" stroke-width="2.2" stroke-linejoin="round"/>
<path d="M163.5,501.7L170.7,513.8H156.3zM167.8,573.0L175.0,585.1H160.6zM169.7,590.9L176.9,603.0H162.5zM168.5,598.3L175.7,610.4H161.3zM171.5,607.0L178.7,619.1H164.3zM174.0,652.7L181.2,664.8H166.8zM179.7,673.7L186.9,685.8H172.5zM182.2,694.6L189.4,706.7H175.0zM184.6,713.2L191.8,725.3H177.4zM183.4,726.7L190.6,738.8H176.2zM193.7,765.8L200.9,777.9H186.5zM201.4,790.8L208.6,802.9H194.2zM216.2,820.0L223.4,832.1H209.0zM279.6,824.9L286.8,837.0H272.4zM295.7,823.4L302.9,835.5H288.5zM322.0,811.9L329.2,824.0H314.8zM328.0,803.9L335.2,816.0H320.8zM334.0,794.9L341.2,807.0H326.8zM341.0,784.9L348.2,797.0H333.8zM348.0,774.9L355.2,787.0H340.8zM355.0,763.9L362.2,776.0H347.8zM362.0,753.9L369.2,766.0H354.8zM369.0,743.9L376.2,756.0H361.8zM376.0,733.9L383.2,746.0H368.8zM384.0,721.9L391.2,734.0H376.8zM392.0,710.9L399.2,723.0H384.8zM401.4,698.6L408.6,710.7H394.2zM406.3,672.3L413.5,684.4H399.1zM412.9,646.0L420.1,658.1H405.7zM431.0,639.4L438.2,651.5H423.8zM439.2,624.6L446.4,636.7H432.0zM475.4,570.3L482.6,582.4H468.2zM449.4,540.8L456.6,552.9H442.2zM458.0,539.6L465.2,551.7H450.8zM469.1,540.8L476.3,552.9H461.9zM476.5,540.8L483.7,552.9H469.3zM464.5,537.0L471.7,549.1H457.3zM480.2,537.0L487.4,549.1H473.0zM491.4,537.0L498.6,549.1H484.2zM508.5,538.3L515.7,550.4H501.3zM469.1,570.4L476.3,582.5H461.9z" fill="none" stroke="#0000ff" stroke-width="2.2" stroke-linejoin="round"/>
<path d="M166.8,520.4L174.0,508.3H159.6zM167.8,569.2L175.0,557.1H160.6zM174.6,642.6L181.8,630.5H167.4zM179.7,697.0L186.9,684.9H172.5zM183.4,703.1L190.6,691.0H176.2zM190.8,751.3L198.0,739.2H183.6zM198.0,778.1L205.2,766.0H190.8zM206.0,801.1L213.2,789.0H198.8zM238.0,838.1L245.2,826.0H230.8zM250.0,846.1L257.2,834.0H242.8zM262.0,853.1L269.2,841.0H254.8zM274.0,859.1L281.2,847.0H266.8zM313.0,840.1L320.2,828.0H305.8zM319.0,832.1L326.2,820.0H311.8zM325.0,824.1L332.2,812.0H317.8zM331.0,816.1L338.2,804.0H323.8zM337.0,807.1L344.2,795.0H329.8zM343.0,798.1L350.2,786.0H335.8zM349.3,788.2L356.5,776.1H342.1zM356.0,778.1L363.2,766.0H348.8zM362.0,769.1L369.2,757.0H354.8zM369.0,758.6L376.2,746.5H361.8zM378.0,747.1L385.2,735.0H370.8zM387.1,735.6L394.3,723.5H379.9zM392.8,713.0L400.0,700.9H385.6zM403.0,705.9L410.2,693.8H395.8zM408.0,684.5L415.2,672.4H400.8zM419.5,694.4L426.7,682.3H412.3zM424.4,664.8L431.6,652.7H417.2zM432.6,674.7L439.8,662.6H425.4zM450.7,628.6L457.9,616.5H443.5zM462.2,605.6L469.4,593.5H455.0zM442.5,587.5L449.7,575.4H435.3zM466.7,560.4L473.9,548.3H459.5zM476.5,559.2L483.7,547.1H469.3zM485.5,559.7L492.7,547.6H478.3zM492.0,560.3L499.2,548.2H484.8z" fill="none" stroke="#8000ff" stroke-width="2.2" stroke-linejoin="round"/>
<path d="M170.9,612.3L178.5,619.3L170.9,626.3L163.3,619.3zM185.7,611.0L193.3,618.0L185.7,625.0L178.1,618.0zM179.7,664.1L187.3,671.1L179.7,678.1L172.1,671.1zM191.9,664.1L199.5,671.1L191.9,678.1L184.3,671.1zM186.5,704.9L194.1,711.9L186.5,718.9L178.9,711.9zM191.4,727.1L199.0,734.1L191.4,741.1L183.8,734.1zM197.0,750.5L204.6,757.5L197.0,764.5L189.4,757.5zM203.7,775.8L211.3,782.8L203.7,789.8L196.1,782.8zM240.0,823.0L247.6,830.0L240.0,837.0L232.4,830.0zM252.0,831.0L259.6,838.0L252.0,845.0L244.4,838.0zM264.0,838.0L271.6,845.0L264.0,852.0L256.4,845.0zM276.0,845.0L283.6,852.0L276.0,859.0L268.4,852.0zM292.8,854.5L300.4,861.5L292.8,868.5L285.2,861.5zM308.0,833.0L315.6,840.0L308.0,847.0L300.4,840.0zM314.0,825.0L321.6,832.0L314.0,839.0L306.4,832.0zM320.0,817.0L327.6,824.0L320.0,831.0L312.4,824.0zM326.0,808.0L333.6,815.0L326.0,822.0L318.4,815.0zM332.0,799.0L339.6,806.0L332.0,813.0L324.4,806.0zM338.0,790.0L345.6,797.0L338.0,804.0L330.4,797.0zM344.3,780.0L351.9,787.0L344.3,794.0L336.7,787.0zM349.3,770.2L356.9,777.2L349.3,784.2L341.7,777.2zM359.1,755.4L366.7,762.4L359.1,769.4L351.5,762.4zM365.0,743.0L372.6,750.0L365.0,757.0L357.4,750.0zM372.0,728.0L379.6,735.0L372.0,742.0L364.4,735.0zM378.0,713.0L385.6,720.0L378.0,727.0L370.4,720.0zM385.5,702.7L393.1,709.7L385.5,716.7L377.9,709.7zM404.7,656.6L412.3,663.6L404.7,670.6L397.1,663.6zM421.1,636.9L428.7,643.9L421.1,650.9L413.5,643.9zM427.7,620.4L435.3,627.4L427.7,634.4L420.1,627.4zM436.3,584.1L443.9,591.1L436.3,598.1L428.7,591.1zM441.4,594.3L449.0,601.3L441.4,608.3L433.8,601.3zM447.5,594.3L455.1,601.3L447.5,608.3L439.9,601.3zM453.6,594.3L461.2,601.3L453.6,608.3L446.0,601.3zM459.0,567.0L466.6,574.0L459.0,581.0L451.4,574.0zM464.2,535.0L471.8,542.0L464.2,549.0L456.6,542.0zM470.4,523.6L478.0,530.6L470.4,537.6L462.8,530.6zM475.6,523.6L483.2,530.6L475.6,537.6L468.0,530.6zM481.5,523.6L489.1,530.6L481.5,537.6L473.9,530.6z" fill="none" stroke="#00ff00" stroke-width="2.2" stroke-linejoin="round"/>
<path d="M176.5,514.5L183.1,519.3L180.6,527.0L172.4,527.0L169.9,519.3zM185.7,632.7L192.3,637.5L189.8,645.2L181.6,645.2L179.1,637.5zM195.7,675.3L202.3,680.1L199.8,687.8L191.6,687.8L189.1,680.1zM200.7,700.0L207.3,704.8L204.8,712.5L196.6,712.5L194.1,704.8zM206.9,737.7L213.5,742.5L211.0,750.2L202.8,750.2L200.3,742.5zM213.0,761.1L219.6,765.9L217.1,773.6L208.9,773.6L206.4,765.9zM219.0,777.7L225.6,782.5L223.1,790.2L214.9,790.2L212.4,782.5zM225.0,793.7L231.6,798.5L229.1,806.2L220.9,806.2L218.4,798.5zM230.0,809.7L236.6,814.5L234.1,822.2L225.9,822.2L223.4,814.5zM236.0,817.7L242.6,822.5L240.1,830.2L231.9,830.2L229.4,822.5zM242.0,823.7L248.6,828.5L246.1,836.2L237.9,836.2L235.4,828.5zM248.0,828.7L254.6,833.5L252.1,841.2L243.9,841.2L241.4,833.5zM254.0,832.7L260.6,837.5L258.1,845.2L249.9,845.2L247.4,837.5zM260.0,835.7L266.6,840.5L264.1,848.2L255.9,848.2L253.4,840.5zM266.0,838.7L272.6,843.5L270.1,851.2L261.9,851.2L259.4,843.5zM272.0,841.7L278.6,846.5L276.1,854.2L267.9,854.2L265.4,846.5zM280.0,844.7L286.6,849.5L284.1,857.2L275.9,857.2L273.4,849.5zM289.9,846.2L296.5,851.0L294.0,858.7L285.8,858.7L283.3,851.0zM307.0,828.7L313.6,833.5L311.1,841.2L302.9,841.2L300.4,833.5zM312.0,818.7L318.6,823.5L316.1,831.2L307.9,831.2L305.4,823.5zM317.0,808.7L323.6,813.5L321.1,821.2L312.9,821.2L310.4,813.5zM322.0,798.8L328.6,803.6L326.1,811.3L317.9,811.3L315.4,803.6zM325.3,790.6L331.9,795.4L329.4,803.1L321.2,803.1L318.7,795.4zM331.0,776.7L337.6,781.5L335.1,789.2L326.9,789.2L324.4,781.5zM336.8,762.7L343.4,767.5L340.9,775.2L332.7,775.2L330.2,767.5zM341.8,749.5L348.4,754.3L345.9,762.0L337.7,762.0L335.2,754.3zM347.0,737.7L353.6,742.5L351.1,750.2L342.9,750.2L340.4,742.5zM353.3,724.8L359.9,729.6L357.4,737.3L349.2,737.3L346.7,729.6zM364.4,711.7L371.0,716.5L368.5,724.2L360.3,724.2L357.8,716.5zM369.4,684.6L376.0,689.4L373.5,697.1L365.3,697.1L362.8,689.4zM378.0,669.7L384.6,674.5L382.1,682.2L373.9,682.2L371.4,674.5zM387.3,659.9L393.9,664.7L391.4,672.4L383.2,672.4L380.7,664.7zM389.9,645.8L396.5,650.6L394.0,658.3L385.8,658.3L383.3,650.6zM398.1,652.4L404.7,657.2L402.2,664.9L394.0,664.9L391.5,657.2zM403.0,594.8L409.6,599.6L407.1,607.3L398.9,607.3L396.4,599.6zM414.5,596.5L421.1,601.3L418.6,609.0L410.4,609.0L407.9,601.3zM409.6,566.9L416.2,571.7L413.7,579.4L405.5,579.4L403.0,571.7zM419.5,555.3L426.1,560.1L423.6,567.8L415.4,567.8L412.9,560.1zM417.3,551.7L423.9,556.5L421.4,564.2L413.2,564.2L410.7,556.5zM427.2,567.8L433.8,572.6L431.3,580.3L423.1,580.3L420.6,572.6zM435.8,533.2L442.4,538.0L439.9,545.7L431.7,545.7L429.2,538.0zM444.4,533.2L451.0,538.0L448.5,545.7L440.3,545.7L437.8,538.0z" fill="none" stroke="#ff00ff" stroke-width="2.2" stroke-linejoin="round"/>
<path d="M165.0,483.9L170.6,487.1L170.6,493.6L165.0,496.9L159.4,493.6L159.4,487.1zM178.6,545.6L184.2,548.9L184.2,555.4L178.6,558.6L173.0,555.4L173.0,548.9zM184.5,589.3L190.1,592.5L190.1,599.0L184.5,602.3L178.9,599.0L178.9,592.5zM188.2,610.9L193.8,614.1L193.8,620.6L188.2,623.9L182.6,620.6L182.6,614.1zM193.1,647.9L198.7,651.1L198.7,657.6L193.1,660.9L187.5,657.6L187.5,651.1zM198.2,686.2L203.8,689.5L203.8,696.0L198.2,699.2L192.6,696.0L192.6,689.5zM203.1,714.0L208.7,717.2L208.7,723.8L203.1,727.0L197.5,723.8L197.5,717.2zM208.1,732.5L213.7,735.8L213.7,742.2L208.1,745.5L202.5,742.2L202.5,735.8zM213.0,759.1L218.6,762.4L218.6,768.9L213.0,772.1L207.4,768.9L207.4,762.4zM218.5,773.5L224.1,776.8L224.1,783.2L218.5,786.5L212.9,783.2L212.9,776.8zM222.4,786.9L228.0,790.1L228.0,796.6L222.4,799.9L216.8,796.6L216.8,790.1zM227.0,799.7L232.6,803.0L232.6,809.5L227.0,812.7L221.4,809.5L221.4,803.0zM231.7,812.5L237.3,815.8L237.3,822.2L231.7,825.5L226.1,822.2L226.1,815.8zM235.0,817.5L240.6,820.8L240.6,827.2L235.0,830.5L229.4,827.2L229.4,820.8zM239.0,821.5L244.6,824.8L244.6,831.2L239.0,834.5L233.4,831.2L233.4,824.8zM243.0,825.0L248.6,828.2L248.6,834.8L243.0,838.0L237.4,834.8L237.4,828.2zM247.0,828.0L252.6,831.2L252.6,837.8L247.0,841.0L241.4,837.8L241.4,831.2zM251.0,830.5L256.6,833.8L256.6,840.2L251.0,843.5L245.4,840.2L245.4,833.8zM255.0,833.0L260.6,836.2L260.6,842.8L255.0,846.0L249.4,842.8L249.4,836.2zM259.0,835.0L264.6,838.2L264.6,844.8L259.0,848.0L253.4,844.8L253.4,838.2zM263.0,837.0L268.6,840.2L268.6,846.8L263.0,850.0L257.4,846.8L257.4,840.2zM267.0,839.0L272.6,842.2L272.6,848.8L267.0,852.0L261.4,848.8L261.4,842.2zM271.0,841.0L276.6,844.2L276.6,850.8L271.0,854.0L265.4,850.8L265.4,844.2zM275.0,843.0L280.6,846.2L280.6,852.8L275.0,856.0L269.4,852.8L269.4,846.2zM281.0,849.5L286.6,852.8L286.6,859.2L281.0,862.5L275.4,859.2L275.4,852.8zM287.0,852.5L292.6,855.8L292.6,862.2L287.0,865.5L281.4,862.2L281.4,855.8zM300.0,834.8L305.6,838.0L305.6,844.5L300.0,847.8L294.4,844.5L294.4,838.0zM304.9,826.6L310.5,829.9L310.5,836.4L304.9,839.6L299.3,836.4L299.3,829.9zM311.4,815.1L317.0,818.4L317.0,824.9L311.4,828.1L305.8,824.9L305.8,818.4zM316.4,805.2L322.0,808.5L322.0,815.0L316.4,818.2L310.8,815.0L310.8,808.5zM322.1,795.3L327.7,798.5L327.7,805.0L322.1,808.3L316.5,805.0L316.5,798.5zM327.9,782.2L333.5,785.5L333.5,792.0L327.9,795.2L322.3,792.0L322.3,785.5zM333.7,769.0L339.3,772.2L339.3,778.8L333.7,782.0L328.1,778.8L328.1,772.2zM338.0,758.5L343.6,761.8L343.6,768.2L338.0,771.5L332.4,768.2L332.4,761.8zM342.7,748.5L348.3,751.8L348.3,758.2L342.7,761.5L337.1,758.2L337.1,751.8zM347.6,736.1L353.2,739.4L353.2,745.9L347.6,749.1L342.0,745.9L342.0,739.4zM351.7,723.0L357.3,726.2L357.3,732.8L351.7,736.0L346.1,732.8L346.1,726.2zM356.7,713.1L362.3,716.4L362.3,722.9L356.7,726.1L351.1,722.9L351.1,716.4zM362.4,704.1L368.0,707.4L368.0,713.9L362.4,717.1L356.8,713.9L356.8,707.4zM369.0,686.0L374.6,689.2L374.6,695.8L369.0,699.0L363.4,695.8L363.4,689.2zM371.9,683.7L377.5,687.0L377.5,693.5L371.9,696.7L366.3,693.5L366.3,687.0zM376.2,673.9L381.8,677.1L381.8,683.6L376.2,686.9L370.6,683.6L370.6,677.1zM381.7,665.8L387.3,669.0L387.3,675.5L381.7,678.8L376.1,675.5L376.1,669.0zM386.7,657.2L392.3,660.5L392.3,667.0L386.7,670.2L381.1,667.0L381.1,660.5zM390.7,639.0L396.3,642.2L396.3,648.8L390.7,652.0L385.1,648.8L385.1,642.2zM394.8,624.2L400.4,627.5L400.4,634.0L394.8,637.2L389.2,634.0L389.2,627.5zM404.7,609.4L410.3,612.6L410.3,619.1L404.7,622.4L399.1,619.1L399.1,612.6zM402.0,606.8L407.6,610.0L407.6,616.5L402.0,619.8L396.4,616.5L396.4,610.0zM407.5,605.6L413.1,608.9L413.1,615.4L407.5,618.6L401.9,615.4L401.9,608.9zM416.2,581.5L421.8,584.8L421.8,591.2L416.2,594.5L410.6,591.2L410.6,584.8zM431.8,556.0L437.4,559.2L437.4,565.8L431.8,569.0L426.2,565.8L426.2,559.2zM420.4,533.0L426.0,536.2L426.0,542.8L420.4,546.0L414.8,542.8L414.8,536.2zM440.7,545.4L446.3,548.6L446.3,555.1L440.7,558.4L435.1,555.1L435.1,548.6zM449.4,515.1L455.0,518.4L455.0,524.9L449.4,528.1L443.8,524.9L443.8,518.4zM454.3,515.1L459.9,518.4L459.9,524.9L454.3,528.1L448.7,524.9L448.7,518.4zM425.9,484.5L431.5,487.8L431.5,494.2L425.9,497.5L420.3,494.2L420.3,487.8z" fill="none" stroke="#ff8000" stroke-width="2.2" stroke-linejoin="round"/>
<path d="M149.0,458.1 L149.2,460.5 L149.3,462.6 L149.5,464.6 L149.6,466.7 L149.7,468.7 L149.9,470.7 L150.0,472.7 L150.2,474.7 L150.3,476.6 L150.5,478.6 L150.6,480.5 L150.7,482.5 L150.9,484.4 L151.0,486.3 L151.2,488.2 L151.3,490.1 L151.5,492.0 L151.6,493.9 L151.7,495.7 L151.9,497.6 L152.0,499.4 L152.2,501.2 L152.3,503.0 L152.5,504.8 L152.6,506.6 L152.8,508.4 L152.9,510.2 L153.0,511.9 L153.2,513.7 L153.3,515.4 L153.5,517.1 L153.6,518.9 L153.8,520.6 L153.9,522.3 L154.0,524.0 L154.2,525.6 L154.3,527.3 L154.5,529.0 L154.6,530.6 L154.8,532.3 L154.9,533.9 L155.0,535.5 L155.2,537.1 L155.3,538.7 L155.5,540.3 L155.6,541.9 L155.8,543.5 L155.9,545.1 L156.0,546.6 L156.2,548.2 L156.3,549.7 L156.5,551.2 L156.6,552.8 L156.8,554.3 L156.9,555.8 L157.0,557.3 L157.2,558.8 L157.3,560.3 L157.5,561.7 L157.6,563.2 L157.8,564.7 L157.9,566.1 L158.1,567.5 L158.2,569.0 L158.3,570.4 L158.5,571.8 L158.6,573.2 L158.8,574.6 L158.9,576.0 L159.1,577.4 L159.2,578.8 L159.3,580.2 L159.5,581.5 L159.6,582.9 L159.8,584.2 L159.9,585.6 L160.1,586.9 L160.2,588.2 L160.3,589.6 L160.5,590.9 L160.6,592.2 L160.8,593.5 L160.9,594.8 L161.1,596.0 L161.2,597.3 L161.3,598.6 L161.5,599.9 L161.6,601.1 L161.8,602.4 L161.9,603.6 L162.1,604.8 L162.2,606.1 L162.3,607.3 L162.5,608.5 L162.6,609.7 L162.8,610.9 L162.9,612.1 L163.1,613.3 L163.3,615.7 L163.6,618.0 L163.9,620.3 L164.2,622.6 L164.5,624.9 L164.8,627.2 L165.1,629.4 L165.4,631.6 L165.6,633.8 L165.9,635.9 L166.2,638.0 L166.5,640.1 L166.8,642.2 L167.1,644.3 L167.4,646.4 L167.6,648.4 L167.9,650.4 L168.2,652.4 L168.5,654.3 L168.8,656.3 L169.1,658.2 L169.4,660.1 L169.7,662.0 L169.9,663.9 L170.2,665.7 L170.5,667.6 L170.8,669.4 L171.1,671.2 L171.4,672.9 L171.7,674.7 L171.9,676.4 L172.2,678.2 L172.5,679.9 L172.8,681.6 L173.1,683.3 L173.4,684.9 L173.7,686.6 L173.9,688.2 L174.2,689.8 L174.5,691.4 L174.8,693.0 L175.1,694.6 L175.4,696.1 L175.7,697.6 L176.0,699.2 L176.2,700.7 L176.5,702.2 L176.8,703.7 L177.1,705.1 L177.4,706.6 L177.7,708.0 L178.0,709.4 L178.2,710.8 L178.5,712.2 L178.8,713.6 L179.1,715.0 L179.4,716.4 L179.7,717.7 L180.0,719.0 L180.3,720.4 L180.5,721.7 L180.8,723.0 L181.1,724.3 L181.4,725.5 L181.7,726.8 L182.0,728.1 L182.3,729.3 L182.5,730.5 L182.8,731.7 L183.1,732.9 L183.4,734.1 L183.7,735.3 L184.0,736.5 L184.4,738.2 L184.8,740.0 L185.3,741.6 L185.7,743.3 L186.1,745.0 L186.6,746.6 L187.0,748.2 L187.4,749.8 L187.8,751.3 L188.3,752.9 L188.7,754.4 L189.1,755.9 L189.6,757.4 L190.0,758.8 L190.4,760.3 L190.9,761.7 L191.3,763.1 L191.7,764.5 L192.1,765.8 L192.6,767.2 L193.0,768.5 L193.4,769.8 L193.9,771.1 L194.3,772.4 L194.7,773.7 L195.1,774.9 L195.6,776.1 L196.0,777.4 L196.4,778.6 L196.9,779.7 L197.3,780.9 L197.7,782.1 L198.2,783.2 L198.6,784.3 L199.2,785.8 L199.7,787.2 L200.3,788.6 L200.9,790.0 L201.5,791.4 L202.0,792.8 L202.6,794.1 L203.2,795.4 L203.7,796.7 L204.3,797.9 L204.9,799.2 L205.5,800.4 L206.0,801.6 L206.6,802.7 L207.2,803.9 L207.8,805.0 L208.3,806.1 L208.9,807.2 L209.5,808.3 L210.0,809.4 L210.8,810.7 L211.5,811.9 L212.2,813.2 L212.9,814.4 L213.6,815.6 L214.3,816.7 L215.1,817.9 L215.8,819.0 L216.5,820.1 L217.2,821.1 L217.9,822.2 L218.6,823.2 L219.4,824.2 L220.1,825.1 L220.9,826.3 L221.8,827.4 L222.6,828.4 L223.5,829.5 L224.4,830.5 L225.2,831.5 L226.1,832.4 L226.9,833.4 L227.8,834.3 L228.7,835.2 L229.5,836.0 L230.5,837.0 L231.5,837.9 L232.5,838.8 L233.5,839.7 L234.5,840.5 L235.5,841.3 L236.5,842.1 L237.5,842.8 L238.5,843.6 L239.6,844.3 L240.6,844.9 L241.7,845.7 L242.8,846.4 L244.0,847.0 L245.1,847.6 L246.3,848.3 L247.4,848.8 L248.6,849.4 L249.7,849.9 L250.9,850.4 L252.0,850.8 L253.2,851.2 L254.3,851.6 L255.5,852.0 L256.7,852.4 L258.0,852.8 L259.3,853.1 L260.6,853.4 L261.9,853.7 L263.2,853.9 L264.5,854.2 L265.8,854.3 L267.1,854.5 L268.3,854.7 L269.6,854.8 L270.9,854.9 L272.2,854.9 L273.5,855.0 L274.8,855.0 L276.1,855.0 L277.4,854.9 L278.7,854.9 L279.9,854.8 L281.2,854.7 L282.5,854.6 L283.8,854.5 L285.1,854.3 L286.4,854.2 L287.7,854.0 L289.0,853.8 L290.3,853.5 L291.5,853.3 L292.8,853.0 L294.1,852.8 L295.4,852.5 L296.7,852.1 L298.0,851.8 L299.3,851.5 L300.6,851.1 L301.9,850.7 L303.1,850.3 L304.3,850.0 L305.4,849.6 L306.6,849.2 L307.7,848.8 L308.9,848.4 L310.0,848.0 L311.2,847.5 L312.3,847.1 L313.5,846.6 L314.6,846.2 L315.8,845.7 L316.9,845.2 L318.0,844.7 L319.2,844.2 L320.3,843.7 L321.5,843.2 L322.6,842.6 L323.8,842.1 L324.9,841.5 L326.1,841.0 L327.2,840.4 L328.4,839.8 L329.5,839.2 L330.6,838.6 L331.8,838.0 L332.9,837.4 L334.1,836.8 L335.2,836.1 L336.4,835.5 L337.5,834.8 L338.7,834.2 L339.8,833.5 L341.0,832.8 L342.1,832.1 L343.3,831.4 L344.4,830.7 L345.5,830.0 L346.7,829.3 L347.8,828.6 L349.0,827.8 L350.1,827.1 L351.3,826.3 L352.3,825.7 L353.3,825.0 L354.3,824.3 L355.3,823.6 L356.3,822.9 L357.3,822.3 L358.3,821.6 L359.3,820.8 L360.3,820.1 L361.3,819.4 L362.3,818.7 L363.3,818.0 L364.3,817.2 L365.3,816.5 L366.3,815.8 L367.3,815.0 L368.3,814.3 L369.3,813.5 L370.3,812.7 L371.3,812.0 L372.3,811.2 L373.3,810.4 L374.3,809.6 L375.3,808.8 L376.3,808.0 L377.3,807.2 L378.3,806.4 L379.3,805.6 L380.4,804.8 L381.4,804.0 L382.4,803.1 L383.4,802.3 L384.4,801.5 L385.4,800.6 L386.4,799.8 L387.4,798.9 L388.4,798.1 L389.4,797.2 L390.4,796.4 L391.4,795.5 L392.4,794.6 L393.4,793.7 L394.4,792.8 L395.4,792.0 L396.4,791.1 L397.4,790.2 L398.4,789.3 L399.4,788.4 L400.4,787.4 L401.4,786.5 L402.4,785.6 L403.4,784.7 L404.4,783.7 L405.4,782.8 L406.4,781.9 L407.4,780.9 L408.4,780.0 L409.4,779.0 L410.4,778.0 L411.4,777.1 L412.4,776.1 L413.4,775.1 L414.3,774.3 L415.2,773.5 L416.0,772.6 L416.9,771.8 L417.7,770.9 L418.6,770.1 L419.5,769.2 L420.3,768.3 L421.2,767.5 L422.0,766.6 L422.9,765.7 L423.8,764.9 L424.6,764.0 L425.5,763.1 L426.3,762.2 L427.2,761.3 L428.0,760.5 L428.9,759.6 L429.8,758.7 L430.6,757.8 L431.5,756.9 L432.3,756.0 L433.2,755.0 L434.1,754.1 L434.9,753.2 L435.8,752.3 L436.6,751.4 L437.5,750.4 L438.4,749.5 L439.2,748.6 L440.1,747.7 L440.9,746.7 L441.8,745.8 L442.7,744.8 L443.5,743.9 L444.4,742.9 L445.2,742.0 L446.1,741.0 L447.0,740.1 L447.8,739.1 L448.7,738.1 L449.5,737.2 L450.4,736.2 L451.3,735.2 L452.1,734.2 L453.0,733.3 L453.8,732.3 L454.7,731.3 L455.6,730.3 L456.4,729.3 L457.3,728.3 L458.1,727.3 L459.0,726.3 L459.8,725.3 L460.7,724.3 L461.6,723.3 L462.4,722.2 L463.3,721.2 L464.1,720.2 L465.0,719.2 L465.9,718.1 L466.7,717.1 L467.6,716.1 L468.4,715.0 L469.3,714.0 L470.2,713.0 L471.0,711.9 L471.9,710.9 L472.7,709.8 L473.6,708.7 L474.5,707.7 L475.3,706.6 L476.2,705.6 L477.0,704.5 L477.9,703.4 L478.8,702.3 L479.6,701.3 L480.5,700.2 L481.3,699.1 L482.2,698.0 L483.1,696.9 L483.9,695.8 L484.8,694.7 L485.6,693.6 L486.5,692.5 L487.3,691.4 L488.2,690.3 L489.1,689.2 L489.9,688.1 L490.8,687.0 L491.6,685.8 L492.5,684.7 L493.4,683.6 L494.2,682.5 L495.1,681.3 L495.9,680.2 L496.8,679.0 L497.7,677.9 L498.5,676.8 L499.4,675.6 L500.2,674.5 L501.1,673.3 L501.8,672.3 L502.5,671.4 L503.2,670.4 L504.0,669.4 L504.7,668.5 L505.4,667.5 L506.1,666.5 L506.8,665.5 L507.5,664.5 L508.3,663.6 L509.0,662.6 L509.7,661.6 L510.4,660.6 L511.1,659.6 L511.8,658.6 L512.6,657.6 L513.3,656.6 L514.0,655.6 L514.7,654.6 L515.4,653.6 L516.1,652.6 L516.9,651.6 L517.6,650.6 L518.3,649.5 L519.0,648.5 L519.7,647.5 L520.4,646.5 L521.2,645.5 L521.9,644.4 L522.6,643.4 L523.3,642.4 L524.0,641.3 L524.7,640.3 L525.4,639.3 L526.2,638.2 L526.9,637.2 L527.6,636.2 L528.3,635.1 L529.0,634.1 L529.7,633.0 L530.5,632.0 L531.2,630.9 L531.9,629.9 L532.6,628.8 L533.3,627.7 L534.0,626.7 L534.8,625.6 L535.5,624.5 L536.2,623.5 L536.9,622.4 L537.6,621.3 L538.3,620.3 L539.1,619.2 L539.8,618.1 L540.5,617.0 L541.2,615.9 L541.9,614.8 L542.6,613.8 L543.4,612.7 L544.1,611.6 L544.8,610.5 L545.5,609.4 L546.2,608.3 L546.9,607.2 L547.7,606.1 L548.4,605.0 L549.1,603.9 L549.8,602.7 L550.5,601.6 L551.2,600.5 L551.9,599.4 L552.7,598.3 L553.4,597.2 L554.1,596.0 L554.8,594.9 L555.5,593.8 L556.2,592.7 L557.0,591.5 L557.7,590.4 L558.4,589.2 L559.1,588.1 L559.8,587.0 L560.5,585.8 L561.3,584.7 L562.0,583.5 L562.7,582.4 L563.4,581.2 L564.1,580.1 L564.8,578.9 L565.6,577.8 L566.3,576.6 L567.0,575.4 L567.7,574.3 L568.4,573.1 L569.1,571.9 L569.9,570.8 L570.6,569.6 L571.3,568.4 L572.0,567.2 L572.7,566.0 L573.4,564.9 L574.2,563.7 L574.9,562.5 L575.6,561.3 L576.3,560.1 L577.0,558.9 L577.7,557.7 L578.4,556.5 L579.2,555.3 L579.9,554.1 L580.6,552.9 L581.3,551.7 L582.0,550.5 L582.7,549.3 L583.5,548.0 L584.2,546.8 L584.9,545.6 L585.6,544.4 L586.3,543.2 L587.0,541.9 L587.8,540.7 L588.5,539.5 L589.2,538.2 L589.9,537.0 L590.6,535.8 L591.3,534.5 L592.1,533.3 L592.8,532.0 L593.5,530.8 L594.2,529.5 L594.9,528.3 L595.6,527.0 L596.4,525.8 L597.1,524.5 L597.8,523.3 L598.5,522.0 L599.2,520.7 L599.9,519.5 L600.6,518.2 L601.4,516.9 L602.1,515.7 L602.8,514.4 L603.5,513.1 L604.2,511.8 L604.9,510.5 L605.7,509.2 L606.4,508.0 L607.1,506.7 L607.8,505.4 L608.5,504.1 L609.2,502.8 L610.0,501.5 L610.7,500.2 L611.4,498.9 L612.1,497.6 L612.8,496.3 L613.5,494.9 L614.3,493.6 L615.0,492.3 L615.5,491.3 L616.1,490.2 L616.7,489.1 L617.3,488.1 L617.8,487.0 L618.4,486.0 L619.0,484.9 L619.6,483.8 L620.1,482.8 L620.7,481.7 L621.3,480.6 L621.8,479.6 L622.4,478.5 L623.0,477.4 L623.6,476.3 L624.1,475.3 L624.7,474.2 L625.3,473.1 L625.9,472.0 L626.4,470.9 L627.0,469.8 L627.6,468.8 L628.2,467.7 L628.7,466.6 L629.3,465.5 L629.9,464.4 L630.4,463.3 L631.0,462.2 L631.6,461.1 L632.2,460.0 L632.7,458.9 L633.2,458.1" fill="none" stroke="#000" stroke-width="2"/>
<path d="M162.1,460.0 L162.2,462.0 L162.4,464.0 L162.5,466.0 L162.6,467.9 L162.8,469.7 L162.9,471.5 L163.0,473.3 L163.2,475.0 L163.3,476.8 L163.5,478.5 L163.6,480.2 L163.7,481.9 L163.9,483.6 L164.0,485.3 L164.1,487.0 L164.3,488.7 L164.4,490.4 L164.5,492.1 L164.7,493.7 L164.8,495.4 L164.9,497.0 L165.1,498.6 L165.2,500.2 L165.4,501.9 L165.5,503.5 L165.6,505.0 L165.8,506.6 L165.9,508.2 L166.0,509.8 L166.2,511.3 L166.3,512.9 L166.4,514.4 L166.6,516.0 L166.7,517.5 L166.8,519.0 L167.0,520.5 L167.1,522.0 L167.3,523.5 L167.4,525.0 L167.5,526.5 L167.7,527.9 L167.8,529.4 L167.9,530.8 L168.1,532.3 L168.2,533.7 L168.3,535.1 L168.5,536.6 L168.6,538.0 L168.7,539.4 L168.9,540.8 L169.0,542.2 L169.2,543.6 L169.3,544.9 L169.4,546.3 L169.6,547.6 L169.7,549.0 L169.8,550.3 L170.0,551.7 L170.1,553.0 L170.2,554.3 L170.4,555.6 L170.5,556.9 L170.6,558.2 L170.8,559.4 L170.9,560.7 L171.1,561.9 L171.2,563.2 L171.3,564.4 L171.5,565.6 L171.6,566.8 L171.7,568.0 L171.9,569.2 L172.0,570.4 L172.3,572.8 L172.5,575.2 L172.8,577.5 L173.1,579.8 L173.4,582.1 L173.6,584.4 L173.9,586.6 L174.2,588.9 L174.4,591.2 L174.7,593.4 L175.0,595.7 L175.3,598.0 L175.5,600.3 L175.8,602.6 L176.1,604.9 L176.3,607.3 L176.6,609.6 L176.9,612.0 L177.2,614.4 L177.3,615.6 L177.4,616.8 L177.6,618.0 L177.7,619.2 L178.0,621.5 L178.2,623.9 L178.5,626.3 L178.8,628.6 L179.1,631.0 L179.3,633.3 L179.6,635.6 L179.9,637.8 L180.1,640.1 L180.4,642.2 L180.7,644.4 L181.0,646.5 L181.2,648.6 L181.5,650.6 L181.8,652.5 L182.0,654.4 L182.3,656.3 L182.6,658.1 L182.9,659.8 L183.1,661.4 L183.4,663.0 L183.7,664.5 L183.9,666.0 L184.2,667.5 L184.5,668.9 L184.8,670.3 L185.0,671.6 L185.3,672.9 L185.6,674.2 L185.8,675.5 L186.1,676.7 L186.4,678.0 L186.7,679.2 L186.9,680.4 L187.2,681.6 L187.5,682.8 L187.7,684.0 L188.0,685.2 L188.3,686.4 L188.6,687.6 L188.8,688.8 L189.1,690.1 L189.4,691.3 L189.6,692.6 L189.9,693.9 L190.2,695.2 L190.5,696.6 L190.7,698.0 L191.0,699.5 L191.3,701.0 L191.5,702.5 L191.8,704.1 L192.1,705.7 L192.4,707.3 L192.6,709.0 L192.9,710.7 L193.2,712.3 L193.4,714.0 L193.7,715.7 L194.0,717.3 L194.3,718.9 L194.5,720.5 L194.8,722.1 L195.1,723.7 L195.3,725.2 L195.6,726.8 L195.9,728.3 L196.2,729.9 L196.4,731.4 L196.7,733.0 L197.0,734.5 L197.2,736.1 L197.5,737.6 L197.8,739.1 L198.1,740.7 L198.3,742.2 L198.6,743.7 L198.9,745.2 L199.1,746.7 L199.4,748.2 L199.7,749.7 L200.0,751.2 L200.2,752.7 L200.5,754.2 L200.8,755.7 L201.0,757.2 L201.3,758.6 L201.6,760.1 L201.9,761.6 L202.1,763.0 L202.4,764.5 L202.7,765.9 L202.9,767.4 L203.2,768.8 L203.5,770.2 L203.8,771.7 L204.0,773.2 L204.3,774.7 L204.6,776.2 L204.8,777.7 L205.1,779.3 L205.4,780.8 L205.7,782.4 L205.9,783.9 L206.2,785.4 L206.5,786.9 L206.7,788.4 L207.0,789.8 L207.3,791.2 L207.6,792.5 L207.8,793.8 L208.1,795.1 L208.4,796.2 L208.8,797.9 L209.2,799.3 L209.6,800.6 L210.0,801.8 L210.5,803.2 L211.1,804.6 L211.6,805.9 L212.2,807.1 L212.7,808.2 L213.3,809.3 L213.9,810.6 L214.6,811.9 L215.3,813.2 L216.0,814.4 L216.6,815.8 L217.2,816.9 L217.7,817.9 L218.3,819.0 L218.8,820.1 L219.4,821.2 L220.0,822.5 L220.7,823.8 L221.4,825.0 L222.1,826.2 L222.8,827.3 L223.4,828.3 L224.2,829.4 L225.1,830.3 L226.0,831.2 L227.0,832.1 L227.9,832.9 L228.9,833.7 L229.9,834.5 L231.0,835.3 L232.1,836.0 L233.2,836.7 L234.3,837.4 L235.4,838.0 L236.5,838.7 L237.5,839.3 L238.6,839.9 L239.7,840.4 L240.8,841.0 L241.9,841.5 L243.0,842.0 L244.2,842.6 L245.4,843.1 L246.6,843.7 L247.9,844.2 L249.1,844.8 L250.3,845.4 L251.5,845.9 L252.7,846.5 L254.0,847.1 L255.2,847.6 L256.4,848.2 L257.6,848.7 L258.8,849.2 L260.1,849.7 L261.3,850.2 L262.5,850.7 L263.7,851.2 L265.0,851.8 L266.2,852.3 L267.4,852.8 L268.6,853.3 L269.8,853.8 L271.1,854.2 L272.3,854.5 L273.5,854.7 L274.7,854.7 L275.9,854.6 L277.2,854.5 L278.4,854.3 L279.6,854.1 L280.8,853.8 L282.1,853.5 L283.3,853.1 L284.5,852.8 L285.7,852.4 L286.9,852.1 L288.2,851.7 L289.4,851.3 L290.6,850.8 L291.8,850.4 L293.0,849.9 L294.3,849.3 L295.5,848.8 L296.7,848.3 L297.9,847.7 L299.0,847.1 L300.1,846.6 L301.2,846.0 L302.3,845.4 L303.4,844.8 L304.4,844.2 L305.5,843.6 L306.6,843.0 L307.7,842.3 L308.8,841.6 L309.9,840.9 L311.0,840.2 L312.0,839.5 L313.1,838.8 L314.2,838.1 L315.3,837.3 L316.4,836.6 L317.5,835.8 L318.6,835.0 L319.6,834.2 L320.7,833.4 L321.8,832.5 L322.9,831.7 L323.8,831.0 L324.8,830.2 L325.7,829.5 L326.7,828.7 L327.6,827.9 L328.6,827.1 L329.5,826.3 L330.5,825.5 L331.4,824.7 L332.4,823.9 L333.3,823.1 L334.3,822.3 L335.2,821.4 L336.2,820.6 L337.1,819.7 L338.1,818.9 L339.0,818.0 L340.0,817.1 L340.9,816.2 L341.9,815.4 L342.8,814.5 L343.8,813.6 L344.7,812.7 L345.7,811.7 L346.6,810.8 L347.6,809.9 L348.5,808.9 L349.5,808.0 L350.4,807.1 L351.4,806.1 L352.3,805.1 L353.3,804.2 L354.2,803.2 L355.2,802.2 L356.1,801.2 L357.1,800.2 L358.0,799.2 L359.0,798.2 L359.9,797.2 L360.9,796.2 L361.8,795.2 L362.8,794.2 L363.6,793.3 L364.4,792.4 L365.2,791.5 L366.0,790.6 L366.9,789.7 L367.7,788.8 L368.5,787.9 L369.3,787.0 L370.1,786.0 L370.9,785.1 L371.7,784.2 L372.6,783.3 L373.4,782.3 L374.2,781.4 L375.0,780.5 L375.8,779.5 L376.6,778.6 L377.4,777.6 L378.3,776.7 L379.1,775.7 L379.9,774.7 L380.7,773.8 L381.5,772.8 L382.3,771.8 L383.1,770.8 L384.0,769.9 L384.8,768.9 L385.6,767.9 L386.4,766.9 L387.2,765.9 L388.0,764.9 L388.8,763.9 L389.7,762.9 L390.5,761.9 L391.3,760.9 L392.1,759.8 L392.9,758.8 L393.7,757.8 L394.5,756.8 L395.4,755.7 L396.2,754.7 L397.0,753.7 L397.8,752.6 L398.6,751.6 L399.4,750.5 L400.2,749.5 L401.1,748.4 L401.9,747.4 L402.7,746.3 L403.5,745.2 L404.3,744.2 L405.1,743.1 L405.9,742.0 L406.8,740.9 L407.6,739.8 L408.4,738.8 L409.2,737.7 L410.0,736.6 L410.8,735.5 L411.6,734.4 L412.5,733.3 L413.3,732.2 L414.1,731.1 L414.9,730.0 L415.7,728.8 L416.5,727.7 L417.3,726.6 L418.1,725.5 L419.0,724.3 L419.8,723.2 L420.6,722.1 L421.4,720.9 L422.2,719.8 L423.0,718.6 L423.8,717.5 L424.7,716.3 L425.5,715.2 L426.3,714.0 L427.1,712.9 L427.9,711.7 L428.7,710.5 L429.5,709.4 L430.4,708.2 L431.2,707.0 L432.0,705.8 L432.8,704.6 L433.5,703.7 L434.2,702.7 L434.8,701.7 L435.5,700.7 L436.2,699.7 L436.9,698.7 L437.6,697.7 L438.2,696.7 L438.9,695.6 L439.6,694.6 L440.3,693.6 L440.9,692.6 L441.6,691.6 L442.3,690.6 L443.0,689.6 L443.7,688.5 L444.3,687.5 L445.0,686.5 L445.7,685.4 L446.4,684.4 L447.1,683.4 L447.7,682.3 L448.4,681.3 L449.1,680.3 L449.8,679.2 L450.4,678.2 L451.1,677.1 L451.8,676.1 L452.5,675.0 L453.2,673.9 L453.8,672.9 L454.5,671.8 L455.2,670.8 L455.9,669.7 L456.6,668.6 L457.2,667.6 L457.9,666.5 L458.6,665.4 L459.3,664.3 L459.9,663.3 L460.6,662.2 L461.3,661.1 L462.0,660.0 L462.7,658.9 L463.3,657.8 L464.0,656.7 L464.7,655.6 L465.4,654.5 L466.0,653.4 L466.7,652.3 L467.4,651.2 L468.1,650.1 L468.8,649.0 L469.4,647.9 L470.1,646.8 L470.8,645.7 L471.5,644.5 L472.2,643.4 L472.8,642.3 L473.5,641.2 L474.2,640.0 L474.9,638.9 L475.5,637.8 L476.2,636.6 L476.9,635.5 L477.6,634.4 L478.3,633.2 L478.9,632.1 L479.6,630.9 L480.3,629.8 L481.0,628.6 L481.7,627.5 L482.3,626.3 L483.0,625.1 L483.7,624.0 L484.4,622.8 L485.0,621.6 L485.7,620.5 L486.4,619.3 L487.1,618.1 L487.8,616.9 L488.4,615.7 L489.1,614.6 L489.8,613.4 L490.5,612.2 L491.2,611.0 L491.8,609.8 L492.5,608.6 L493.2,607.4 L493.9,606.2 L494.5,605.0 L495.2,603.8 L495.9,602.6 L496.6,601.4 L497.3,600.2 L497.9,598.9 L498.6,597.7 L499.3,596.5 L500.0,595.3 L500.7,594.0 L501.3,592.8 L502.0,591.6 L502.7,590.4 L503.4,589.1 L504.0,587.9 L504.7,586.6 L505.4,585.4 L506.1,584.1 L506.8,582.9 L507.4,581.6 L508.1,580.4 L508.8,579.1 L509.5,577.9 L510.1,576.6 L510.8,575.3 L511.5,574.0 L512.2,572.8 L512.9,571.5 L513.5,570.2 L514.2,568.9 L514.9,567.7 L515.6,566.4 L516.3,565.1 L516.9,563.8 L517.6,562.5 L518.3,561.2 L519.0,559.9 L519.6,558.6 L520.3,557.3 L521.0,556.0 L521.7,554.7 L522.4,553.4 L523.0,552.0 L523.7,550.7 L524.4,549.4 L525.1,548.1 L525.8,546.7 L526.4,545.4 L527.1,544.1 L527.8,542.7 L528.3,541.7 L528.9,540.6 L529.4,539.5 L530.0,538.4 L530.5,537.4 L531.0,536.3 L531.6,535.2 L532.1,534.1 L532.7,533.0 L533.2,531.9 L533.8,530.9 L534.3,529.8 L534.8,528.7 L535.4,527.6 L535.9,526.5 L536.5,525.4 L537.0,524.3 L537.6,523.2 L538.1,522.1 L538.6,521.0 L539.2,519.8 L539.7,518.7 L540.3,517.6 L540.8,516.5 L541.4,515.4 L541.9,514.3 L542.4,513.2 L543.0,512.0 L543.5,510.9 L544.1,509.8 L544.6,508.7 L545.2,507.5 L545.7,506.4 L546.2,505.3 L546.8,504.1 L547.3,503.0 L547.9,501.8 L548.4,500.7 L549.0,499.6 L549.5,498.4 L550.0,497.3 L550.6,496.1 L551.1,495.0 L551.7,493.8 L552.2,492.7 L552.8,491.5 L553.3,490.3 L553.8,489.2 L554.4,488.0 L554.9,486.8 L555.5,485.7 L556.0,484.5 L556.6,483.3 L557.1,482.2 L557.6,481.0 L558.2,479.8 L558.7,478.6 L559.3,477.5 L559.8,476.3 L560.4,475.1 L560.9,473.9 L561.4,472.7 L562.0,471.5 L562.5,470.3 L563.1,469.1 L563.6,467.9 L564.2,466.7 L564.7,465.5 L565.2,464.3 L565.8,463.1 L566.3,461.9 L566.9,460.7 L567.4,459.5 L568.0,458.3 L568.0,458.1" fill="none" stroke="#000080" stroke-width="2"/>
<path d="M162.6,460.0 L162.7,461.9 L162.9,463.8 L163.0,465.7 L163.1,467.5 L163.2,469.3 L163.4,471.0 L163.5,472.7 L163.6,474.3 L163.8,476.0 L163.9,477.7 L164.0,479.3 L164.1,480.9 L164.3,482.6 L164.4,484.2 L164.5,485.8 L164.7,487.4 L164.8,489.0 L164.9,490.6 L165.1,492.2 L165.2,493.8 L165.3,495.3 L165.4,496.9 L165.6,498.4 L165.7,500.0 L165.8,501.5 L166.0,503.0 L166.1,504.6 L166.2,506.1 L166.3,507.6 L166.5,509.1 L166.6,510.6 L166.7,512.0 L166.9,513.5 L167.0,515.0 L167.1,516.4 L167.2,517.9 L167.4,519.3 L167.5,520.8 L167.6,522.2 L167.8,523.6 L167.9,525.0 L168.0,526.4 L168.2,527.8 L168.3,529.2 L168.4,530.6 L168.5,532.0 L168.7,533.3 L168.8,534.7 L168.9,536.1 L169.1,537.4 L169.2,538.7 L169.3,540.1 L169.4,541.4 L169.6,542.7 L169.7,544.0 L169.8,545.3 L170.0,546.6 L170.1,547.9 L170.2,549.2 L170.3,550.5 L170.5,551.7 L170.6,553.0 L170.7,554.3 L170.9,555.5 L171.0,556.7 L171.1,557.9 L171.3,559.1 L171.4,560.3 L171.6,562.7 L171.9,565.0 L172.2,567.4 L172.4,569.6 L172.7,571.9 L172.9,574.1 L173.2,576.4 L173.4,578.6 L173.7,580.8 L174.0,582.9 L174.2,585.1 L174.5,587.3 L174.7,589.4 L175.0,591.6 L175.3,593.8 L175.5,595.9 L175.8,598.1 L176.0,600.3 L176.3,602.5 L176.5,604.7 L176.8,606.9 L177.1,609.2 L177.3,611.4 L177.6,613.7 L177.8,615.9 L178.1,618.2 L178.4,620.5 L178.6,622.8 L178.9,625.0 L179.1,627.3 L179.4,629.5 L179.6,631.7 L179.9,633.9 L180.2,636.1 L180.4,638.2 L180.7,640.3 L180.9,642.4 L181.2,644.5 L181.5,646.5 L181.7,648.4 L182.0,650.4 L182.2,652.2 L182.5,654.0 L182.7,655.8 L183.0,657.5 L183.3,659.2 L183.5,660.7 L183.8,662.3 L184.0,663.8 L184.3,665.2 L184.6,666.6 L184.8,668.0 L185.1,669.3 L185.3,670.6 L185.6,671.9 L185.8,673.1 L186.1,674.3 L186.4,675.5 L186.6,676.7 L187.0,678.5 L187.4,680.2 L187.8,681.9 L188.2,683.6 L188.6,685.3 L188.9,687.0 L189.3,688.8 L189.6,690.0 L189.9,691.2 L190.1,692.4 L190.4,693.6 L190.6,694.9 L190.9,696.2 L191.1,697.5 L191.4,698.9 L191.7,700.3 L191.9,701.8 L192.2,703.3 L192.4,704.8 L192.7,706.4 L193.0,708.0 L193.2,709.6 L193.5,711.2 L193.7,712.8 L194.0,714.4 L194.2,716.0 L194.5,717.6 L194.8,719.2 L195.0,720.7 L195.3,722.2 L195.5,723.7 L195.8,725.2 L196.0,726.7 L196.3,728.2 L196.6,729.7 L196.8,731.2 L197.1,732.7 L197.3,734.2 L197.6,735.7 L197.9,737.1 L198.1,738.6 L198.4,740.1 L198.6,741.6 L198.9,743.0 L199.1,744.5 L199.4,745.9 L199.7,747.4 L199.9,748.8 L200.2,750.3 L200.4,751.7 L200.7,753.1 L201.0,754.6 L201.2,756.0 L201.5,757.4 L201.7,758.8 L202.0,760.2 L202.2,761.7 L202.5,763.1 L202.8,764.5 L203.0,765.8 L203.3,767.2 L203.5,768.6 L203.8,770.0 L204.1,771.4 L204.3,772.8 L204.6,774.2 L204.8,775.7 L205.1,777.2 L205.3,778.7 L205.6,780.2 L205.9,781.6 L206.1,783.1 L206.4,784.6 L206.6,786.0 L206.9,787.4 L207.2,788.8 L207.4,790.2 L207.7,791.5 L207.9,792.8 L208.2,794.0 L208.4,795.2 L208.8,796.9 L209.2,798.4 L209.6,799.7 L210.0,800.9 L210.5,802.4 L211.0,803.8 L211.5,805.0 L212.1,806.2 L212.6,807.4 L213.2,808.7 L213.9,810.0 L214.5,811.2 L215.2,812.4 L215.8,813.7 L216.5,814.9 L217.1,816.2 L217.7,817.5 L218.4,818.8 L219.0,820.1 L219.7,821.4 L220.3,822.6 L221.0,823.9 L221.6,825.0 L222.3,826.2 L222.9,827.2 L223.7,828.4 L224.5,829.4 L225.4,830.4 L226.3,831.3 L227.2,832.1 L228.2,833.0 L229.2,833.9 L230.3,834.6 L231.3,835.4 L232.3,836.0 L233.4,836.7 L234.4,837.3 L235.4,838.0 L236.5,838.6 L237.6,839.2 L238.8,839.9 L240.0,840.5 L241.1,841.1 L242.3,841.6 L243.4,842.2 L244.6,842.7 L245.8,843.3 L246.9,843.8 L248.1,844.3 L249.3,844.9 L250.4,845.4 L251.6,845.9 L252.7,846.5 L253.9,847.0 L255.1,847.5 L256.2,848.1 L257.4,848.6 L258.6,849.1 L259.7,849.6 L260.9,850.0 L262.0,850.5 L263.2,851.0 L264.4,851.6 L265.5,852.1 L266.7,852.7 L267.9,853.2 L269.0,853.7 L270.2,854.1 L271.3,854.4 L272.6,854.7 L273.9,854.7 L275.2,854.6 L276.5,854.4 L277.8,854.1 L279.0,853.8 L280.1,853.4 L281.3,853.0 L282.5,852.6 L283.6,852.1 L284.8,851.7 L285.9,851.3 L287.1,850.9 L288.3,850.4 L289.4,849.9 L290.6,849.4 L291.7,848.8 L292.9,848.2 L294.1,847.6 L295.2,847.0 L296.4,846.4 L297.6,845.7 L298.7,845.1 L299.8,844.4 L300.8,843.8 L301.8,843.1 L302.9,842.5 L303.9,841.8 L304.9,841.1 L306.0,840.4 L307.0,839.6 L308.0,838.9 L309.1,838.1 L310.1,837.4 L311.1,836.6 L312.2,835.8 L313.2,835.0 L314.2,834.1 L315.3,833.3 L316.3,832.4 L317.3,831.6 L318.4,830.7 L319.4,829.8 L320.3,829.0 L321.2,828.2 L322.1,827.4 L323.0,826.6 L323.9,825.8 L324.8,825.0 L325.7,824.1 L326.6,823.3 L327.5,822.4 L328.4,821.5 L329.3,820.7 L330.2,819.8 L331.1,818.9 L332.0,818.0 L332.9,817.1 L333.9,816.2 L334.8,815.3 L335.7,814.3 L336.6,813.4 L337.5,812.5 L338.4,811.5 L339.3,810.6 L340.2,809.6 L341.1,808.6 L342.0,807.6 L342.9,806.7 L343.8,805.7 L344.7,804.7 L345.6,803.7 L346.5,802.6 L347.4,801.6 L348.3,800.6 L349.2,799.6 L350.1,798.5 L351.0,797.5 L351.9,796.4 L352.8,795.4 L353.7,794.3 L354.5,793.4 L355.3,792.5 L356.1,791.6 L356.8,790.6 L357.6,789.7 L358.4,788.8 L359.2,787.8 L359.9,786.9 L360.7,785.9 L361.5,785.0 L362.3,784.0 L363.0,783.0 L363.8,782.1 L364.6,781.1 L365.4,780.1 L366.1,779.1 L366.9,778.2 L367.7,777.2 L368.5,776.2 L369.2,775.2 L370.0,774.2 L370.8,773.2 L371.6,772.2 L372.3,771.2 L373.1,770.2 L373.9,769.1 L374.7,768.1 L375.4,767.1 L376.2,766.1 L377.0,765.0 L377.8,764.0 L378.5,762.9 L379.3,761.9 L380.1,760.8 L380.9,759.8 L381.6,758.7 L382.4,757.7 L383.2,756.6 L384.0,755.6 L384.7,754.5 L385.5,753.4 L386.3,752.3 L387.1,751.2 L387.8,750.2 L388.6,749.1 L389.4,748.0 L390.2,746.9 L390.9,745.8 L391.7,744.7 L392.5,743.6 L393.3,742.5 L394.0,741.4 L394.8,740.3 L395.6,739.1 L396.4,738.0 L397.1,736.9 L397.9,735.8 L398.7,734.6 L399.5,733.5 L400.2,732.4 L401.0,731.2 L401.8,730.1 L402.6,728.9 L403.3,727.8 L404.1,726.6 L404.9,725.5 L405.7,724.3 L406.4,723.1 L407.2,722.0 L408.0,720.8 L408.8,719.6 L409.5,718.5 L410.3,717.3 L411.1,716.1 L411.9,714.9 L412.6,713.7 L413.4,712.5 L414.2,711.3 L415.0,710.1 L415.7,708.9 L416.5,707.7 L417.3,706.5 L418.1,705.3 L418.8,704.1 L419.5,703.1 L420.1,702.1 L420.8,701.1 L421.4,700.0 L422.1,699.0 L422.7,698.0 L423.4,697.0 L424.0,695.9 L424.6,694.9 L425.3,693.9 L425.9,692.8 L426.6,691.8 L427.2,690.8 L427.9,689.7 L428.5,688.7 L429.2,687.6 L429.8,686.6 L430.5,685.5 L431.1,684.5 L431.7,683.4 L432.4,682.4 L433.0,681.3 L433.7,680.3 L434.3,679.2 L435.0,678.1 L435.6,677.1 L436.3,676.0 L436.9,674.9 L437.6,673.9 L438.2,672.8 L438.9,671.7 L439.5,670.6 L440.1,669.6 L440.8,668.5 L441.4,667.4 L442.1,666.3 L442.7,665.2 L443.4,664.1 L444.0,663.0 L444.7,661.9 L445.3,660.8 L446.0,659.7 L446.6,658.6 L447.2,657.5 L447.9,656.4 L448.5,655.3 L449.2,654.2 L449.8,653.1 L450.5,652.0 L451.1,650.9 L451.8,649.8 L452.4,648.6 L453.1,647.5 L453.7,646.4 L454.3,645.3 L455.0,644.1 L455.6,643.0 L456.3,641.9 L456.9,640.7 L457.6,639.6 L458.2,638.5 L458.9,637.3 L459.5,636.2 L460.2,635.0 L460.8,633.9 L461.5,632.7 L462.1,631.6 L462.7,630.4 L463.4,629.3 L464.0,628.1 L464.7,627.0 L465.3,625.8 L466.0,624.6 L466.6,623.5 L467.3,622.3 L467.9,621.1 L468.6,619.9 L469.2,618.8 L469.8,617.6 L470.5,616.4 L471.1,615.2 L471.8,614.1 L472.4,612.9 L473.1,611.7 L473.7,610.5 L474.4,609.3 L475.0,608.1 L475.7,606.9 L476.3,605.7 L477.0,604.5 L477.6,603.3 L478.2,602.1 L478.9,600.9 L479.5,599.7 L480.2,598.5 L480.8,597.3 L481.5,596.0 L482.1,594.8 L482.8,593.6 L483.4,592.4 L484.1,591.2 L484.7,589.9 L485.3,588.7 L486.0,587.5 L486.6,586.2 L487.3,585.0 L487.9,583.8 L488.6,582.5 L489.2,581.3 L489.9,580.0 L490.5,578.8 L491.2,577.5 L491.8,576.3 L492.4,575.0 L493.1,573.8 L493.7,572.5 L494.4,571.3 L495.0,570.0 L495.7,568.7 L496.3,567.5 L497.0,566.2 L497.6,564.9 L498.3,563.7 L498.9,562.4 L499.6,561.1 L500.2,559.8 L500.8,558.5 L501.5,557.3 L502.1,556.0 L502.8,554.7 L503.4,553.4 L504.1,552.1 L504.7,550.8 L505.4,549.5 L506.0,548.2 L506.7,546.9 L507.3,545.6 L507.9,544.3 L508.6,543.0 L509.2,541.7 L509.9,540.3 L510.5,539.0 L511.2,537.7 L511.8,536.4 L512.5,535.1 L513.1,533.7 L513.8,532.4 L514.4,531.1 L515.1,529.7 L515.7,528.4 L516.3,527.1 L517.0,525.7 L517.6,524.4 L518.3,523.0 L518.9,521.7 L519.6,520.3 L520.2,519.0 L520.7,517.9 L521.2,516.8 L521.8,515.7 L522.3,514.6 L522.8,513.6 L523.3,512.5 L523.8,511.4 L524.3,510.3 L524.9,509.2 L525.4,508.1 L525.9,507.0 L526.4,505.9 L526.9,504.8 L527.4,503.7 L528.0,502.6 L528.5,501.5 L529.0,500.4 L529.5,499.2 L530.0,498.1 L530.5,497.0 L531.1,495.9 L531.6,494.8 L532.1,493.7 L532.6,492.5 L533.1,491.4 L533.6,490.3 L534.2,489.2 L534.7,488.0 L535.2,486.9 L535.7,485.8 L536.2,484.7 L536.7,483.5 L537.3,482.4 L537.8,481.3 L538.3,480.1 L538.8,479.0 L539.3,477.8 L539.8,476.7 L540.4,475.5 L540.9,474.4 L541.4,473.3 L541.9,472.1 L542.4,471.0 L542.9,469.8 L543.5,468.6 L544.0,467.5 L544.5,466.3 L545.0,465.2 L545.5,464.0 L546.0,462.9 L546.6,461.7 L547.1,460.5 L547.6,459.4 L548.1,458.2 L548.1,458.1" fill="none" stroke="#0000ff" stroke-width="2"/>
<path d="M163.6,460.0 L163.7,461.7 L163.8,463.5 L164.0,465.2 L164.1,467.0 L164.2,468.6 L164.3,470.2 L164.4,471.8 L164.6,473.3 L164.7,474.9 L164.8,476.4 L164.9,477.9 L165.0,479.4 L165.2,481.0 L165.3,482.5 L165.4,484.0 L165.5,485.5 L165.6,486.9 L165.7,488.4 L165.9,489.9 L166.0,491.4 L166.1,492.8 L166.2,494.3 L166.3,495.7 L166.5,497.1 L166.6,498.6 L166.7,500.0 L166.8,501.4 L166.9,502.8 L167.1,504.2 L167.2,505.6 L167.3,507.0 L167.4,508.4 L167.5,509.8 L167.7,511.1 L167.8,512.5 L167.9,513.9 L168.0,515.2 L168.1,516.6 L168.3,517.9 L168.4,519.2 L168.5,520.6 L168.6,521.9 L168.7,523.2 L168.8,524.5 L169.0,525.8 L169.1,527.1 L169.2,528.4 L169.3,529.7 L169.4,530.9 L169.6,532.2 L169.7,533.5 L169.8,534.7 L169.9,536.0 L170.0,537.2 L170.2,538.5 L170.3,539.7 L170.4,540.9 L170.5,542.1 L170.6,543.3 L170.8,544.6 L170.9,545.8 L171.0,547.0 L171.2,549.3 L171.5,551.7 L171.7,554.0 L171.9,556.3 L172.2,558.5 L172.4,560.7 L172.7,562.9 L172.9,565.1 L173.1,567.2 L173.4,569.3 L173.6,571.4 L173.9,573.5 L174.1,575.5 L174.3,577.6 L174.6,579.6 L174.8,581.6 L175.0,583.6 L175.3,585.6 L175.5,587.6 L175.8,589.6 L176.0,591.6 L176.2,593.6 L176.5,595.6 L176.7,597.6 L177.0,599.6 L177.2,601.6 L177.4,603.7 L177.7,605.7 L177.9,607.8 L178.1,609.9 L178.4,612.0 L178.6,614.1 L178.9,616.2 L179.1,618.3 L179.3,620.4 L179.6,622.4 L179.8,624.5 L180.1,626.6 L180.3,628.7 L180.5,630.7 L180.8,632.8 L181.0,634.8 L181.2,636.8 L181.5,638.7 L181.7,640.7 L182.0,642.6 L182.2,644.5 L182.4,646.4 L182.7,648.2 L182.9,650.0 L183.2,651.7 L183.4,653.4 L183.6,655.0 L183.9,656.6 L184.1,658.2 L184.3,659.7 L184.6,661.1 L184.8,662.5 L185.1,663.9 L185.3,665.2 L185.5,666.5 L185.8,667.8 L186.0,669.0 L186.3,670.2 L186.6,672.0 L187.0,673.7 L187.3,675.3 L187.7,677.0 L188.0,678.6 L188.4,680.1 L188.8,681.7 L189.1,683.3 L189.5,684.9 L189.8,686.4 L190.2,688.1 L190.6,689.7 L190.9,691.4 L191.3,693.1 L191.6,694.8 L191.9,696.1 L192.1,697.3 L192.3,698.6 L192.6,699.9 L192.8,701.2 L193.1,702.6 L193.3,704.1 L193.5,705.5 L193.8,707.0 L194.0,708.5 L194.2,710.1 L194.5,711.6 L194.7,713.1 L195.0,714.7 L195.2,716.2 L195.4,717.7 L195.7,719.1 L195.9,720.6 L196.2,722.0 L196.4,723.4 L196.6,724.9 L196.9,726.3 L197.1,727.7 L197.3,729.1 L197.6,730.5 L197.8,731.9 L198.1,733.3 L198.3,734.7 L198.5,736.1 L198.8,737.5 L199.0,738.9 L199.3,740.3 L199.5,741.7 L199.7,743.1 L200.0,744.5 L200.2,745.8 L200.4,747.2 L200.7,748.6 L200.9,750.0 L201.2,751.3 L201.4,752.7 L201.6,754.0 L201.9,755.4 L202.1,756.7 L202.4,758.0 L202.6,759.4 L202.8,760.7 L203.1,762.0 L203.3,763.4 L203.5,764.7 L203.8,766.0 L204.0,767.3 L204.3,768.6 L204.5,769.9 L204.7,771.2 L205.0,772.6 L205.2,773.9 L205.5,775.3 L205.7,776.7 L205.9,778.1 L206.2,779.5 L206.4,780.9 L206.6,782.3 L206.9,783.7 L207.1,785.0 L207.4,786.4 L207.6,787.7 L207.8,789.0 L208.1,790.3 L208.3,791.6 L208.6,792.8 L208.9,794.5 L209.3,796.1 L209.6,797.6 L210.0,799.0 L210.3,800.1 L210.8,801.6 L211.3,802.9 L211.8,804.2 L212.3,805.4 L212.7,806.5 L213.3,807.8 L213.9,809.0 L214.5,810.2 L215.1,811.4 L215.7,812.5 L216.3,813.7 L216.9,814.8 L217.5,816.0 L218.1,817.2 L218.7,818.5 L219.3,819.7 L219.9,820.9 L220.5,822.1 L221.1,823.2 L221.7,824.4 L222.3,825.4 L223.0,826.7 L223.7,827.8 L224.4,828.8 L225.3,829.9 L226.1,830.7 L227.0,831.7 L228.0,832.6 L228.9,833.4 L229.9,834.1 L231.0,834.9 L232.0,835.6 L233.1,836.3 L234.2,837.0 L235.3,837.7 L236.3,838.3 L237.4,839.0 L238.5,839.6 L239.6,840.1 L240.6,840.7 L241.7,841.2 L242.9,841.8 L244.1,842.4 L245.3,843.0 L246.5,843.5 L247.7,844.1 L248.9,844.6 L250.1,845.2 L251.2,845.7 L252.4,846.3 L253.6,846.8 L254.8,847.4 L256.0,847.9 L257.2,848.4 L258.4,848.9 L259.6,849.5 L260.8,850.0 L262.0,850.5 L263.2,851.0 L264.2,851.6 L265.3,852.1 L266.4,852.7 L267.5,853.3 L268.7,853.8 L269.9,854.2 L271.0,854.6 L272.2,854.7 L273.5,854.6 L274.7,854.4 L275.9,854.1 L277.1,853.6 L278.3,853.1 L279.5,852.5 L280.6,851.9 L281.7,851.4 L282.7,850.8 L283.8,850.2 L285.0,849.6 L286.1,849.1 L287.1,848.5 L288.2,847.9 L289.3,847.3 L290.4,846.7 L291.4,846.0 L292.5,845.3 L293.6,844.6 L294.7,843.9 L295.7,843.2 L296.8,842.4 L297.9,841.6 L298.9,840.8 L299.9,840.1 L300.9,839.3 L301.8,838.6 L302.8,837.8 L303.7,837.0 L304.7,836.2 L305.6,835.4 L306.6,834.6 L307.5,833.7 L308.5,832.9 L309.4,832.0 L310.4,831.1 L311.4,830.2 L312.3,829.3 L313.3,828.4 L314.2,827.5 L315.2,826.5 L316.1,825.6 L317.1,824.6 L318.0,823.6 L318.9,822.7 L319.7,821.9 L320.5,821.0 L321.4,820.1 L322.2,819.2 L323.0,818.3 L323.9,817.4 L324.7,816.4 L325.5,815.5 L326.4,814.6 L327.2,813.6 L328.0,812.7 L328.9,811.7 L329.7,810.7 L330.6,809.8 L331.4,808.8 L332.2,807.8 L333.1,806.8 L333.9,805.8 L334.7,804.8 L335.6,803.8 L336.4,802.7 L337.2,801.7 L338.1,800.7 L338.9,799.6 L339.7,798.6 L340.6,797.5 L341.4,796.5 L342.2,795.4 L343.1,794.3 L343.9,793.2 L344.7,792.2 L345.6,791.1 L346.4,790.0 L347.2,788.9 L348.1,787.7 L348.9,786.6 L349.7,785.5 L350.5,784.5 L351.2,783.6 L351.9,782.6 L352.6,781.6 L353.3,780.6 L354.0,779.6 L354.8,778.7 L355.5,777.7 L356.2,776.7 L356.9,775.7 L357.6,774.7 L358.3,773.6 L359.1,772.6 L359.8,771.6 L360.5,770.6 L361.2,769.6 L361.9,768.5 L362.6,767.5 L363.3,766.5 L364.1,765.4 L364.8,764.4 L365.5,763.3 L366.2,762.3 L366.9,761.2 L367.6,760.2 L368.4,759.1 L369.1,758.1 L369.8,757.0 L370.5,755.9 L371.2,754.8 L371.9,753.8 L372.6,752.7 L373.4,751.6 L374.1,750.5 L374.8,749.4 L375.5,748.3 L376.2,747.2 L376.9,746.1 L377.7,745.0 L378.4,743.9 L379.1,742.8 L379.8,741.7 L380.5,740.6 L381.2,739.5 L381.9,738.3 L382.7,737.2 L383.4,736.1 L384.1,734.9 L384.8,733.8 L385.5,732.7 L386.2,731.5 L387.0,730.4 L387.7,729.2 L388.4,728.1 L389.1,726.9 L389.8,725.8 L390.5,724.6 L391.2,723.5 L392.0,722.3 L392.7,721.1 L393.4,719.9 L394.1,718.8 L394.8,717.6 L395.5,716.4 L396.3,715.2 L397.0,714.0 L397.7,712.8 L398.4,711.6 L399.1,710.5 L399.8,709.3 L400.5,708.1 L401.3,706.8 L402.0,705.6 L402.7,704.4 L403.4,703.2 L404.1,702.0 L404.8,700.8 L405.6,699.5 L406.3,698.3 L407.0,697.1 L407.7,695.9 L408.4,694.6 L409.1,693.4 L409.9,692.1 L410.6,690.9 L411.3,689.7 L412.0,688.4 L412.6,687.4 L413.2,686.3 L413.8,685.3 L414.4,684.2 L415.0,683.2 L415.6,682.1 L416.2,681.1 L416.8,680.0 L417.4,678.9 L418.0,677.9 L418.6,676.8 L419.2,675.8 L419.7,674.7 L420.3,673.6 L420.9,672.5 L421.5,671.5 L422.1,670.4 L422.7,669.3 L423.3,668.2 L423.9,667.2 L424.5,666.1 L425.1,665.0 L425.7,663.9 L426.3,662.8 L426.9,661.7 L427.5,660.6 L428.1,659.5 L428.7,658.4 L429.3,657.3 L429.9,656.2 L430.5,655.1 L431.1,654.0 L431.7,652.9 L432.3,651.8 L432.9,650.7 L433.5,649.6 L434.1,648.4 L434.7,647.3 L435.3,646.2 L435.8,645.1 L436.4,644.0 L437.0,642.8 L437.6,641.7 L438.2,640.6 L438.8,639.4 L439.4,638.3 L440.0,637.2 L440.6,636.0 L441.2,634.9 L441.8,633.7 L442.4,632.6 L443.0,631.4 L443.6,630.3 L444.2,629.1 L444.8,628.0 L445.4,626.8 L446.0,625.7 L446.6,624.5 L447.2,623.3 L447.8,622.2 L448.4,621.0 L449.0,619.8 L449.6,618.7 L450.2,617.5 L450.8,616.3 L451.4,615.1 L451.9,613.9 L452.5,612.8 L453.1,611.6 L453.7,610.4 L454.3,609.2 L454.9,608.0 L455.5,606.8 L456.1,605.6 L456.7,604.4 L457.3,603.2 L457.9,602.0 L458.5,600.8 L459.1,599.6 L459.7,598.4 L460.3,597.2 L460.9,596.0 L461.5,594.7 L462.1,593.5 L462.7,592.3 L463.3,591.1 L463.9,589.9 L464.5,588.6 L465.1,587.4 L465.7,586.2 L466.3,584.9 L466.9,583.7 L467.4,582.4 L468.0,581.2 L468.6,580.0 L469.2,578.7 L469.8,577.5 L470.4,576.2 L471.0,575.0 L471.6,573.7 L472.2,572.4 L472.8,571.2 L473.4,569.9 L474.0,568.6 L474.6,567.4 L475.2,566.1 L475.8,564.8 L476.4,563.6 L477.0,562.3 L477.6,561.0 L478.2,559.7 L478.8,558.4 L479.4,557.1 L480.0,555.8 L480.6,554.6 L481.2,553.3 L481.8,552.0 L482.4,550.7 L483.0,549.4 L483.5,548.0 L484.1,546.7 L484.7,545.4 L485.3,544.1 L485.9,542.8 L486.5,541.5 L487.1,540.2 L487.7,538.8 L488.3,537.5 L488.9,536.2 L489.5,534.8 L490.1,533.5 L490.7,532.2 L491.3,530.8 L491.9,529.5 L492.5,528.1 L493.1,526.8 L493.7,525.4 L494.3,524.1 L494.9,522.7 L495.5,521.4 L496.1,520.0 L496.7,518.6 L497.3,517.3 L497.9,515.9 L498.5,514.5 L499.1,513.2 L499.5,512.1 L500.0,511.0 L500.5,509.8 L501.0,508.7 L501.4,507.6 L501.9,506.5 L502.4,505.4 L502.9,504.3 L503.3,503.2 L503.8,502.1 L504.3,500.9 L504.8,499.8 L505.3,498.7 L505.7,497.6 L506.2,496.4 L506.7,495.3 L507.2,494.2 L507.6,493.0 L508.1,491.9 L508.6,490.8 L509.1,489.6 L509.5,488.5 L510.0,487.4 L510.5,486.2 L511.0,485.1 L511.5,483.9 L511.9,482.8 L512.4,481.6 L512.9,480.5 L513.4,479.3 L513.8,478.1 L514.3,477.0 L514.8,475.8 L515.3,474.7 L515.7,473.5 L516.2,472.3 L516.7,471.2 L517.2,470.0 L517.7,468.8 L518.1,467.6 L518.6,466.5 L519.1,465.3 L519.6,464.1 L520.0,462.9 L520.5,461.7 L521.0,460.5 L521.2,460.0" fill="none" stroke="#8000ff" stroke-width="2"/>
<path d="M166.4,460.0 L166.5,461.6 L166.6,463.2 L166.7,464.8 L166.8,466.3 L166.9,467.9 L167.1,469.4 L167.2,470.8 L167.3,472.2 L167.4,473.6 L167.5,475.0 L167.6,476.4 L167.7,477.8 L167.8,479.2 L167.9,480.6 L168.0,482.0 L168.1,483.3 L168.2,484.7 L168.4,486.0 L168.5,487.4 L168.6,488.7 L168.7,490.1 L168.8,491.4 L168.9,492.7 L169.0,494.1 L169.1,495.4 L169.2,496.7 L169.3,498.0 L169.4,499.3 L169.6,500.6 L169.7,501.9 L169.8,503.2 L169.9,504.4 L170.0,505.7 L170.1,507.0 L170.2,508.2 L170.3,509.5 L170.4,510.7 L170.5,512.0 L170.6,513.2 L170.7,514.5 L170.9,515.7 L171.0,516.9 L171.1,518.1 L171.2,519.3 L171.3,520.5 L171.4,521.8 L171.5,522.9 L171.7,525.3 L171.9,527.7 L172.2,530.0 L172.4,532.3 L172.6,534.6 L172.8,536.9 L173.0,539.2 L173.2,541.4 L173.5,543.6 L173.7,545.8 L173.9,548.0 L174.1,550.1 L174.3,552.3 L174.5,554.4 L174.8,556.4 L175.0,558.5 L175.2,560.5 L175.4,562.5 L175.6,564.5 L175.9,566.4 L176.1,568.3 L176.3,570.3 L176.5,572.2 L176.7,574.0 L176.9,575.9 L177.2,577.8 L177.4,579.6 L177.6,581.5 L177.8,583.3 L178.0,585.1 L178.2,586.9 L178.5,588.8 L178.7,590.6 L178.9,592.4 L179.1,594.2 L179.3,596.0 L179.5,597.8 L179.8,599.7 L180.0,601.5 L180.2,603.4 L180.4,605.2 L180.6,607.1 L180.8,609.0 L181.1,610.9 L181.3,612.8 L181.5,614.7 L181.7,616.6 L181.9,618.5 L182.2,620.4 L182.4,622.3 L182.6,624.2 L182.8,626.1 L183.0,628.0 L183.2,629.9 L183.5,631.8 L183.7,633.6 L183.9,635.4 L184.1,637.3 L184.3,639.0 L184.5,640.8 L184.8,642.6 L185.0,644.3 L185.2,646.0 L185.4,647.6 L185.6,649.3 L185.8,650.9 L186.1,652.4 L186.3,654.0 L186.5,655.5 L186.7,656.9 L186.9,658.3 L187.1,659.7 L187.4,661.0 L187.6,662.3 L187.8,663.5 L188.0,664.7 L188.2,665.9 L188.6,667.6 L188.9,669.3 L189.2,670.9 L189.5,672.5 L189.9,674.0 L190.2,675.5 L190.5,676.9 L190.8,678.3 L191.2,679.8 L191.5,681.2 L191.8,682.6 L192.1,684.0 L192.5,685.5 L192.8,686.9 L193.1,688.4 L193.4,689.9 L193.8,691.4 L194.1,693.0 L194.4,694.7 L194.8,696.4 L195.1,698.2 L195.3,699.4 L195.5,700.7 L195.7,702.0 L195.9,703.3 L196.2,704.7 L196.4,706.2 L196.6,707.7 L196.8,709.2 L197.0,710.7 L197.2,712.2 L197.5,713.7 L197.7,715.2 L197.9,716.7 L198.1,718.2 L198.3,719.6 L198.6,721.0 L198.8,722.4 L199.0,723.8 L199.2,725.2 L199.4,726.6 L199.6,728.0 L199.9,729.3 L200.1,730.7 L200.3,732.1 L200.5,733.5 L200.7,734.8 L200.9,736.2 L201.2,737.6 L201.4,738.9 L201.6,740.3 L201.8,741.6 L202.0,743.0 L202.2,744.3 L202.5,745.6 L202.7,747.0 L202.9,748.3 L203.1,749.6 L203.3,751.0 L203.6,752.3 L203.8,753.6 L204.0,754.9 L204.2,756.2 L204.4,757.5 L204.6,758.8 L204.9,760.1 L205.1,761.4 L205.3,762.7 L205.5,764.0 L205.7,765.3 L205.9,766.5 L206.2,767.8 L206.4,769.1 L206.6,770.3 L206.8,771.6 L207.0,772.9 L207.2,774.2 L207.5,775.6 L207.7,776.9 L207.9,778.3 L208.1,779.6 L208.3,781.0 L208.5,782.3 L208.8,783.7 L209.0,785.0 L209.2,786.3 L209.4,787.6 L209.6,788.9 L209.9,790.1 L210.1,791.3 L210.4,793.1 L210.7,794.7 L211.0,796.3 L211.4,797.7 L211.7,799.0 L212.1,800.5 L212.6,801.9 L213.0,803.1 L213.4,804.3 L213.9,805.5 L214.4,806.8 L215.0,808.0 L215.5,809.2 L216.0,810.3 L216.6,811.4 L217.1,812.5 L217.7,813.6 L218.2,814.7 L218.8,815.8 L219.3,817.0 L219.8,818.1 L220.4,819.3 L220.9,820.4 L221.5,821.5 L222.0,822.7 L222.6,823.7 L223.2,825.0 L223.9,826.2 L224.5,827.3 L225.2,828.3 L225.9,829.4 L226.8,830.4 L227.7,831.3 L228.5,832.1 L229.5,833.0 L230.5,833.8 L231.5,834.6 L232.4,835.3 L233.5,836.0 L234.6,836.7 L235.7,837.4 L236.8,838.1 L237.9,838.8 L239.0,839.4 L240.0,840.0 L241.1,840.6 L242.2,841.2 L243.3,841.7 L244.4,842.3 L245.5,842.8 L246.6,843.3 L247.7,843.8 L248.7,844.3 L249.8,844.9 L250.9,845.4 L252.0,845.9 L253.2,846.5 L254.4,847.0 L255.6,847.5 L256.8,848.1 L258.0,848.6 L259.2,849.2 L260.4,849.7 L261.6,850.2 L262.6,850.8 L263.7,851.4 L264.8,852.0 L265.9,852.7 L267.0,853.4 L268.1,853.9 L269.3,854.4 L270.5,854.7 L271.8,854.7 L273.0,854.4 L274.2,854.1 L275.4,853.6 L276.4,853.0 L277.5,852.4 L278.6,851.7 L279.7,851.1 L280.8,850.4 L281.9,849.7 L283.0,849.1 L284.0,848.4 L285.1,847.8 L286.2,847.1 L287.3,846.3 L288.4,845.6 L289.4,844.9 L290.3,844.1 L291.3,843.4 L292.3,842.7 L293.3,841.9 L294.3,841.1 L295.2,840.3 L296.2,839.4 L297.2,838.5 L298.2,837.7 L299.1,836.7 L300.1,835.8 L301.0,835.0 L301.9,834.1 L302.7,833.3 L303.6,832.4 L304.5,831.5 L305.3,830.6 L306.2,829.7 L307.1,828.8 L307.9,827.8 L308.8,826.9 L309.7,825.9 L310.5,824.9 L311.4,823.9 L312.3,822.9 L313.2,821.9 L314.0,820.9 L314.9,819.9 L315.8,818.8 L316.5,817.9 L317.3,816.9 L318.0,816.0 L318.8,815.0 L319.6,814.1 L320.3,813.1 L321.1,812.1 L321.8,811.1 L322.6,810.1 L323.4,809.1 L324.1,808.1 L324.9,807.1 L325.6,806.1 L326.4,805.1 L327.2,804.0 L327.9,803.0 L328.7,801.9 L329.4,800.9 L330.2,799.8 L331.0,798.7 L331.7,797.6 L332.5,796.5 L333.2,795.4 L334.0,794.3 L334.8,793.2 L335.5,792.1 L336.3,791.0 L337.1,789.9 L337.8,788.7 L338.6,787.6 L339.3,786.4 L340.1,785.3 L340.9,784.1 L341.6,783.0 L342.4,781.8 L343.0,780.8 L343.7,779.8 L344.3,778.7 L345.0,777.7 L345.6,776.7 L346.3,775.6 L346.9,774.6 L347.6,773.6 L348.2,772.5 L348.9,771.5 L349.5,770.4 L350.2,769.4 L350.8,768.3 L351.5,767.2 L352.2,766.2 L352.8,765.1 L353.5,764.0 L354.1,762.9 L354.8,761.8 L355.4,760.8 L356.1,759.7 L356.7,758.6 L357.4,757.5 L358.0,756.3 L358.7,755.2 L359.3,754.1 L360.0,753.0 L360.6,751.9 L361.3,750.8 L361.9,749.6 L362.6,748.5 L363.2,747.4 L363.9,746.2 L364.5,745.1 L365.2,743.9 L365.8,742.8 L366.5,741.6 L367.1,740.5 L367.8,739.3 L368.4,738.1 L369.1,737.0 L369.7,735.8 L370.4,734.6 L371.1,733.4 L371.7,732.2 L372.4,731.0 L373.0,729.9 L373.7,728.7 L374.3,727.5 L375.0,726.3 L375.6,725.0 L376.3,723.8 L376.9,722.6 L377.6,721.4 L378.2,720.2 L378.9,719.0 L379.5,717.7 L380.2,716.5 L380.8,715.3 L381.5,714.0 L382.1,712.8 L382.8,711.5 L383.4,710.3 L384.1,709.0 L384.7,707.8 L385.4,706.5 L386.0,705.3 L386.7,704.0 L387.3,702.7 L388.0,701.4 L388.6,700.2 L389.3,698.9 L390.0,697.6 L390.5,696.5 L391.0,695.5 L391.6,694.4 L392.1,693.3 L392.7,692.2 L393.2,691.1 L393.8,690.0 L394.3,689.0 L394.8,687.9 L395.4,686.8 L395.9,685.7 L396.5,684.6 L397.0,683.5 L397.6,682.4 L398.1,681.3 L398.6,680.2 L399.2,679.0 L399.7,677.9 L400.3,676.8 L400.8,675.7 L401.4,674.6 L401.9,673.5 L402.4,672.3 L403.0,671.2 L403.5,670.1 L404.1,668.9 L404.6,667.8 L405.2,666.7 L405.7,665.5 L406.2,664.4 L406.8,663.2 L407.3,662.1 L407.9,660.9 L408.4,659.8 L409.0,658.6 L409.5,657.5 L410.0,656.3 L410.6,655.1 L411.1,654.0 L411.7,652.8 L412.2,651.6 L412.8,650.5 L413.3,649.3 L413.8,648.1 L414.4,646.9 L414.9,645.8 L415.5,644.6 L416.0,643.4 L416.6,642.2 L417.1,641.0 L417.7,639.8 L418.2,638.6 L418.7,637.4 L419.3,636.2 L419.8,635.0 L420.4,633.8 L420.9,632.6 L421.5,631.4 L422.0,630.2 L422.5,628.9 L423.1,627.7 L423.6,626.5 L424.2,625.3 L424.7,624.0 L425.3,622.8 L425.8,621.6 L426.3,620.3 L426.9,619.1 L427.4,617.9 L428.0,616.6 L428.5,615.4 L429.1,614.1 L429.6,612.9 L430.1,611.6 L430.7,610.3 L431.2,609.1 L431.8,607.8 L432.3,606.6 L432.9,605.3 L433.4,604.0 L433.9,602.7 L434.5,601.5 L435.0,600.2 L435.6,598.9 L436.1,597.6 L436.7,596.3 L437.2,595.0 L437.7,593.7 L438.3,592.4 L438.8,591.1 L439.4,589.8 L439.9,588.5 L440.5,587.2 L441.0,585.9 L441.5,584.6 L442.1,583.3 L442.6,582.0 L443.2,580.7 L443.7,579.3 L444.3,578.0 L444.8,576.7 L445.4,575.3 L445.9,574.0 L446.4,572.7 L447.0,571.3 L447.5,570.0 L448.1,568.6 L448.6,567.3 L449.2,565.9 L449.7,564.6 L450.2,563.2 L450.8,561.8 L451.3,560.5 L451.9,559.1 L452.4,557.7 L453.0,556.4 L453.5,555.0 L454.0,553.6 L454.6,552.2 L455.1,550.8 L455.7,549.4 L456.2,548.0 L456.8,546.6 L457.2,545.5 L457.6,544.4 L458.1,543.3 L458.5,542.1 L458.9,541.0 L459.4,539.9 L459.8,538.8 L460.2,537.6 L460.7,536.5 L461.1,535.3 L461.5,534.2 L462.0,533.1 L462.4,531.9 L462.8,530.8 L463.3,529.6 L463.7,528.5 L464.1,527.3 L464.6,526.2 L465.0,525.0 L465.4,523.8 L465.9,522.7 L466.3,521.5 L466.8,520.4 L467.2,519.2 L467.6,518.0 L468.1,516.8 L468.5,515.7 L468.9,514.5 L469.4,513.3 L469.8,512.1 L470.2,510.9 L470.7,509.8 L471.1,508.6 L471.5,507.4 L472.0,506.2 L472.4,505.0 L472.8,503.8 L473.3,502.6 L473.7,501.4 L474.1,500.2 L474.6,499.0 L475.0,497.8 L475.4,496.6 L475.9,495.4 L476.3,494.2 L476.7,492.9 L477.2,491.7 L477.6,490.5 L478.0,489.3 L478.5,488.0 L478.9,486.8 L479.4,485.6 L479.8,484.4 L480.2,483.1 L480.7,481.9 L481.1,480.6 L481.5,479.4 L482.0,478.2 L482.4,476.9 L482.8,475.7 L483.3,474.4 L483.7,473.2 L484.1,471.9 L484.6,470.6 L485.0,469.4 L485.4,468.1 L485.9,466.8 L486.3,465.6 L486.7,464.3 L487.2,463.0 L487.6,461.8 L488.0,460.5 L488.5,459.2 L488.8,458.1" fill="none" stroke="#00ff00" stroke-width="2"/>
<path d="M169.0,460.0 L169.1,461.5 L169.2,463.0 L169.3,464.5 L169.4,465.9 L169.5,467.4 L169.6,468.8 L169.7,470.1 L169.8,471.4 L169.9,472.8 L170.0,474.1 L170.1,475.4 L170.2,476.7 L170.3,478.0 L170.4,479.3 L170.5,480.6 L170.6,481.8 L170.7,483.1 L170.8,484.4 L170.9,485.6 L171.0,486.9 L171.1,488.2 L171.2,489.4 L171.3,490.7 L171.4,491.9 L171.5,493.1 L171.6,494.4 L171.7,495.6 L171.8,496.8 L171.9,498.0 L172.0,499.2 L172.1,500.5 L172.2,501.7 L172.3,502.9 L172.5,505.2 L172.7,507.6 L172.9,509.9 L173.2,512.3 L173.4,514.6 L173.6,516.8 L173.8,519.1 L174.0,521.4 L174.2,523.6 L174.4,525.8 L174.6,528.0 L174.8,530.2 L175.0,532.3 L175.2,534.5 L175.4,536.6 L175.6,538.7 L175.8,540.8 L176.0,542.8 L176.2,544.9 L176.4,546.9 L176.6,549.0 L176.8,551.0 L177.0,552.9 L177.2,554.9 L177.4,556.8 L177.6,558.7 L177.8,560.6 L178.0,562.4 L178.2,564.3 L178.4,566.1 L178.6,567.9 L178.8,569.7 L179.0,571.5 L179.2,573.2 L179.4,575.0 L179.6,576.7 L179.8,578.5 L180.0,580.2 L180.2,581.9 L180.4,583.6 L180.6,585.3 L180.8,587.0 L181.0,588.7 L181.3,590.4 L181.5,592.1 L181.7,593.8 L181.9,595.5 L182.1,597.2 L182.3,598.9 L182.5,600.6 L182.7,602.3 L182.9,604.0 L183.1,605.8 L183.3,607.5 L183.5,609.3 L183.7,611.1 L183.9,612.8 L184.1,614.6 L184.3,616.4 L184.5,618.2 L184.7,619.9 L184.9,621.7 L185.1,623.5 L185.3,625.3 L185.5,627.0 L185.7,628.8 L185.9,630.5 L186.1,632.3 L186.3,634.0 L186.5,635.7 L186.7,637.4 L186.9,639.0 L187.1,640.7 L187.3,642.3 L187.5,643.9 L187.7,645.5 L187.9,647.1 L188.1,648.6 L188.3,650.1 L188.5,651.6 L188.7,653.0 L188.9,654.4 L189.1,655.8 L189.4,657.2 L189.6,658.5 L189.8,659.7 L190.0,661.0 L190.2,662.2 L190.5,663.9 L190.8,665.6 L191.1,667.2 L191.4,668.7 L191.7,670.2 L192.0,671.6 L192.3,673.0 L192.6,674.4 L192.9,675.8 L193.2,677.1 L193.5,678.4 L193.8,679.7 L194.1,681.0 L194.4,682.3 L194.7,683.7 L195.0,685.0 L195.3,686.3 L195.6,687.7 L195.9,689.1 L196.2,690.6 L196.5,692.0 L196.8,693.6 L197.1,695.2 L197.5,696.8 L197.8,698.6 L198.0,699.8 L198.2,701.0 L198.4,702.3 L198.6,703.7 L198.8,705.1 L199.0,706.5 L199.2,708.0 L199.4,709.6 L199.6,711.1 L199.8,712.6 L200.0,714.2 L200.2,715.7 L200.4,717.2 L200.6,718.6 L200.8,720.0 L201.0,721.4 L201.2,722.8 L201.4,724.2 L201.6,725.6 L201.8,727.0 L202.0,728.4 L202.2,729.8 L202.4,731.1 L202.6,732.5 L202.8,733.9 L203.0,735.2 L203.2,736.6 L203.4,737.9 L203.6,739.3 L203.8,740.6 L204.0,742.0 L204.2,743.3 L204.4,744.7 L204.6,746.0 L204.8,747.3 L205.0,748.7 L205.2,750.0 L205.5,751.3 L205.7,752.6 L205.9,753.9 L206.1,755.2 L206.3,756.5 L206.5,757.8 L206.7,759.1 L206.9,760.4 L207.1,761.7 L207.3,762.9 L207.5,764.2 L207.7,765.5 L207.9,766.7 L208.1,768.0 L208.3,769.3 L208.5,770.5 L208.7,771.8 L208.9,773.1 L209.1,774.4 L209.3,775.7 L209.5,777.0 L209.7,778.4 L209.9,779.7 L210.1,781.1 L210.3,782.4 L210.5,783.7 L210.7,785.1 L210.9,786.4 L211.1,787.6 L211.3,788.9 L211.5,790.1 L211.7,791.3 L212.0,793.1 L212.3,794.7 L212.6,796.2 L212.9,797.6 L213.2,798.9 L213.7,800.4 L214.1,801.7 L214.5,803.0 L214.9,804.2 L215.4,805.6 L215.9,806.8 L216.4,808.0 L216.9,809.2 L217.4,810.3 L218.0,811.6 L218.6,812.8 L219.2,814.1 L219.8,815.4 L220.3,816.5 L220.8,817.6 L221.3,818.7 L221.9,819.8 L222.4,820.9 L223.0,822.2 L223.6,823.5 L224.2,824.7 L224.8,825.9 L225.4,827.0 L226.1,828.1 L226.8,829.2 L227.6,830.2 L228.4,831.1 L229.3,832.0 L230.3,832.9 L231.2,833.6 L232.2,834.5 L233.2,835.2 L234.2,835.9 L235.2,836.6 L236.2,837.3 L237.2,837.9 L238.3,838.6 L239.4,839.3 L240.5,839.9 L241.6,840.5 L242.7,841.1 L243.8,841.7 L244.9,842.3 L246.1,842.8 L247.2,843.4 L248.3,843.9 L249.4,844.5 L250.5,845.0 L251.6,845.6 L252.7,846.1 L253.9,846.6 L255.0,847.1 L256.1,847.6 L257.2,848.1 L258.3,848.6 L259.4,849.2 L260.5,849.7 L261.6,850.2 L262.8,850.8 L263.9,851.5 L264.9,852.2 L265.9,853.0 L266.9,853.6 L268.0,854.2 L269.2,854.6 L270.5,854.7 L271.7,854.5 L272.9,854.2 L274.1,853.8 L275.2,853.3 L276.3,852.7 L277.4,852.1 L278.6,851.5 L279.7,850.8 L280.8,850.2 L281.9,849.5 L283.0,848.9 L284.1,848.2 L285.1,847.6 L286.2,846.8 L287.2,846.1 L288.2,845.4 L289.2,844.6 L290.2,843.8 L291.2,843.0 L292.2,842.1 L293.2,841.3 L294.2,840.5 L295.1,839.6 L296.0,838.8 L296.9,837.9 L297.8,837.0 L298.7,836.1 L299.6,835.2 L300.5,834.2 L301.4,833.3 L302.4,832.3 L303.3,831.3 L304.1,830.5 L304.9,829.5 L305.7,828.6 L306.5,827.7 L307.3,826.7 L308.1,825.8 L308.9,824.8 L309.7,823.8 L310.6,822.8 L311.4,821.8 L312.2,820.8 L313.0,819.8 L313.8,818.7 L314.6,817.7 L315.4,816.6 L316.2,815.5 L317.0,814.4 L317.8,813.3 L318.6,812.3 L319.3,811.4 L320.0,810.4 L320.7,809.4 L321.4,808.4 L322.1,807.4 L322.8,806.4 L323.5,805.3 L324.2,804.3 L324.9,803.2 L325.6,802.2 L326.4,801.1 L327.1,800.1 L327.8,799.0 L328.5,797.9 L329.2,796.8 L329.9,795.7 L330.6,794.6 L331.3,793.5 L332.0,792.4 L332.7,791.3 L333.4,790.2 L334.1,789.0 L334.9,787.9 L335.6,786.7 L336.3,785.6 L337.0,784.4 L337.7,783.3 L338.4,782.1 L339.1,780.9 L339.8,779.7 L340.5,778.5 L341.2,777.3 L341.9,776.1 L342.6,775.1 L343.2,774.0 L343.8,773.0 L344.4,771.9 L345.0,770.9 L345.6,769.8 L346.2,768.7 L346.8,767.7 L347.4,766.6 L348.0,765.5 L348.6,764.4 L349.2,763.4 L349.8,762.3 L350.5,761.2 L351.1,760.1 L351.7,759.0 L352.3,757.9 L352.9,756.7 L353.5,755.6 L354.1,754.5 L354.7,753.4 L355.3,752.2 L355.9,751.1 L356.5,750.0 L357.1,748.8 L357.7,747.7 L358.3,746.5 L359.0,745.4 L359.6,744.2 L360.2,743.1 L360.8,741.9 L361.4,740.8 L362.0,739.6 L362.6,738.4 L363.2,737.2 L363.8,736.0 L364.4,734.9 L365.0,733.7 L365.6,732.5 L366.2,731.3 L366.9,730.1 L367.5,728.9 L368.1,727.7 L368.7,726.4 L369.3,725.2 L369.9,724.0 L370.5,722.8 L371.1,721.6 L371.7,720.3 L372.3,719.1 L372.9,717.9 L373.5,716.6 L374.1,715.4 L374.8,714.1 L375.4,712.9 L376.0,711.6 L376.6,710.3 L377.2,709.1 L377.8,707.8 L378.4,706.6 L379.0,705.3 L379.6,704.0 L380.2,702.7 L380.8,701.4 L381.4,700.1 L382.0,698.9 L382.7,697.6 L383.3,696.3 L383.9,695.0 L384.5,693.7 L385.0,692.6 L385.5,691.5 L386.0,690.4 L386.5,689.3 L387.0,688.2 L387.5,687.1 L388.0,686.0 L388.5,684.9 L389.0,683.8 L389.5,682.7 L390.0,681.5 L390.5,680.4 L391.1,679.3 L391.6,678.2 L392.1,677.1 L392.6,675.9 L393.1,674.8 L393.6,673.7 L394.1,672.5 L394.6,671.4 L395.1,670.3 L395.6,669.1 L396.1,668.0 L396.6,666.9 L397.1,665.7 L397.6,664.6 L398.1,663.4 L398.6,662.3 L399.2,661.1 L399.7,659.9 L400.2,658.8 L400.7,657.6 L401.2,656.5 L401.7,655.3 L402.2,654.1 L402.7,652.9 L403.2,651.8 L403.7,650.6 L404.2,649.4 L404.7,648.2 L405.2,647.1 L405.7,645.9 L406.2,644.7 L406.7,643.5 L407.3,642.3 L407.8,641.1 L408.3,639.9 L408.8,638.7 L409.3,637.5 L409.8,636.3 L410.3,635.1 L410.8,633.9 L411.3,632.7 L411.8,631.5 L412.3,630.2 L412.8,629.0 L413.3,627.8 L413.8,626.6 L414.3,625.4 L414.8,624.1 L415.4,622.9 L415.9,621.7 L416.4,620.4 L416.9,619.2 L417.4,617.9 L417.9,616.7 L418.4,615.5 L418.9,614.2 L419.4,613.0 L419.9,611.7 L420.4,610.5 L420.9,609.2 L421.4,607.9 L421.9,606.7 L422.4,605.4 L422.9,604.2 L423.5,602.9 L424.0,601.6 L424.5,600.3 L425.0,599.1 L425.5,597.8 L426.0,596.5 L426.5,595.2 L427.0,593.9 L427.5,592.7 L428.0,591.4 L428.5,590.1 L429.0,588.8 L429.5,587.5 L430.0,586.2 L430.5,584.9 L431.1,583.6 L431.6,582.3 L432.1,581.0 L432.6,579.6 L433.1,578.3 L433.6,577.0 L434.1,575.7 L434.6,574.4 L435.1,573.1 L435.6,571.7 L436.1,570.4 L436.6,569.1 L437.1,567.7 L437.6,566.4 L438.1,565.1 L438.6,563.7 L439.2,562.4 L439.7,561.0 L440.2,559.7 L440.7,558.3 L441.2,557.0 L441.7,555.6 L442.2,554.2 L442.7,552.9 L443.2,551.5 L443.7,550.2 L444.2,548.8 L444.7,547.4 L445.2,546.0 L445.7,544.7 L446.2,543.3 L446.7,541.9 L447.3,540.5 L447.8,539.1 L448.3,537.7 L448.8,536.3 L449.3,534.9 L449.8,533.5 L450.3,532.1 L450.8,530.7 L451.3,529.3 L451.8,527.9 L452.3,526.5 L452.7,525.4 L453.1,524.2 L453.5,523.1 L453.9,522.0 L454.3,520.8 L454.7,519.7 L455.1,518.6 L455.6,517.4 L456.0,516.3 L456.4,515.1 L456.8,514.0 L457.2,512.8 L457.6,511.7 L458.0,510.5 L458.4,509.4 L458.8,508.2 L459.2,507.0 L459.6,505.9 L460.0,504.7 L460.4,503.6 L460.8,502.4 L461.2,501.2 L461.6,500.0 L462.0,498.9 L462.4,497.7 L462.8,496.5 L463.2,495.4 L463.7,494.2 L464.1,493.0 L464.5,491.8 L464.9,490.6 L465.3,489.4 L465.7,488.2 L466.1,487.1 L466.5,485.9 L466.9,484.7 L467.3,483.5 L467.7,482.3 L468.1,481.1 L468.5,479.9 L468.9,478.7 L469.3,477.5 L469.7,476.3 L470.1,475.1 L470.5,473.8 L470.9,472.6 L471.4,471.4 L471.8,470.2 L472.2,469.0 L472.6,467.8 L472.7,467.5" fill="none" stroke="#ff00ff" stroke-width="2"/>
<path d="M172.6,460.0 L172.7,461.4 L172.8,462.8 L172.9,464.3 L173.0,465.7 L173.1,467.0 L173.2,468.4 L173.3,469.7 L173.4,471.0 L173.5,472.2 L173.6,473.5 L173.7,474.7 L173.8,476.0 L173.9,477.2 L174.0,478.4 L174.0,479.7 L174.1,480.9 L174.2,482.1 L174.3,483.3 L174.4,484.5 L174.5,485.8 L174.6,487.0 L174.7,488.2 L174.9,490.5 L175.1,492.9 L175.3,495.3 L175.5,497.6 L175.7,499.9 L175.9,502.2 L176.1,504.5 L176.3,506.7 L176.5,509.0 L176.7,511.2 L176.9,513.4 L177.0,515.6 L177.2,517.8 L177.4,519.9 L177.6,522.1 L177.8,524.2 L178.0,526.3 L178.2,528.4 L178.4,530.4 L178.6,532.5 L178.8,534.5 L179.0,536.6 L179.2,538.6 L179.4,540.6 L179.6,542.5 L179.7,544.5 L179.9,546.4 L180.1,548.4 L180.3,550.3 L180.5,552.2 L180.7,554.1 L180.9,555.9 L181.1,557.7 L181.3,559.5 L181.5,561.3 L181.7,563.1 L181.9,564.8 L182.1,566.6 L182.3,568.3 L182.5,570.0 L182.6,571.7 L182.8,573.4 L183.0,575.0 L183.2,576.7 L183.4,578.3 L183.6,580.0 L183.8,581.6 L184.0,583.3 L184.2,584.9 L184.4,586.5 L184.6,588.1 L184.8,589.7 L185.0,591.3 L185.2,593.0 L185.4,594.6 L185.5,596.2 L185.7,597.8 L185.9,599.4 L186.1,601.1 L186.3,602.7 L186.5,604.4 L186.7,606.0 L186.9,607.7 L187.1,609.4 L187.3,611.1 L187.5,612.8 L187.7,614.5 L187.9,616.2 L188.1,617.9 L188.3,619.6 L188.4,621.3 L188.6,623.0 L188.8,624.7 L189.0,626.3 L189.2,628.0 L189.4,629.7 L189.6,631.3 L189.8,633.0 L190.0,634.6 L190.2,636.2 L190.4,637.8 L190.6,639.4 L190.8,641.0 L191.0,642.6 L191.2,644.1 L191.3,645.6 L191.5,647.1 L191.7,648.6 L191.9,650.0 L192.1,651.4 L192.3,652.8 L192.5,654.1 L192.7,655.5 L192.9,656.8 L193.1,658.0 L193.3,659.2 L193.5,660.4 L193.8,662.1 L194.0,663.8 L194.3,665.4 L194.6,666.9 L194.9,668.3 L195.2,669.7 L195.5,671.1 L195.8,672.4 L196.1,673.7 L196.4,675.0 L196.7,676.2 L196.9,677.5 L197.2,678.7 L197.5,679.9 L197.8,681.1 L198.1,682.3 L198.4,683.6 L198.7,684.9 L199.0,686.1 L199.3,687.5 L199.6,688.8 L199.8,690.2 L200.1,691.7 L200.4,693.2 L200.7,694.8 L201.0,696.4 L201.3,698.1 L201.5,699.3 L201.7,700.5 L201.9,701.9 L202.1,703.3 L202.3,704.7 L202.5,706.3 L202.6,707.9 L202.8,709.5 L203.0,711.2 L203.2,712.8 L203.4,714.5 L203.6,716.1 L203.8,717.7 L204.0,719.2 L204.2,720.7 L204.4,722.2 L204.6,723.7 L204.8,725.1 L205.0,726.6 L205.2,728.1 L205.4,729.5 L205.5,731.0 L205.7,732.4 L205.9,733.9 L206.1,735.3 L206.3,736.8 L206.5,738.2 L206.7,739.6 L206.9,741.0 L207.1,742.4 L207.3,743.9 L207.5,745.3 L207.7,746.7 L207.9,748.1 L208.1,749.5 L208.3,750.9 L208.4,752.2 L208.6,753.6 L208.8,755.0 L209.0,756.4 L209.2,757.7 L209.4,759.1 L209.6,760.4 L209.8,761.8 L210.0,763.1 L210.2,764.4 L210.4,765.8 L210.6,767.1 L210.8,768.4 L211.0,769.7 L211.2,771.0 L211.3,772.4 L211.5,773.7 L211.7,775.1 L211.9,776.5 L212.1,777.9 L212.3,779.3 L212.5,780.7 L212.7,782.1 L212.9,783.5 L213.1,784.9 L213.3,786.3 L213.5,787.6 L213.7,788.9 L213.9,790.2 L214.1,791.4 L214.2,792.6 L214.5,794.4 L214.8,796.0 L215.1,797.5 L215.4,798.8 L215.7,800.0 L216.1,801.4 L216.5,802.7 L216.9,803.9 L217.2,805.1 L217.7,806.4 L218.2,807.7 L218.7,808.9 L219.2,810.0 L219.8,811.3 L220.3,812.6 L220.9,813.8 L221.5,815.1 L222.0,816.3 L222.5,817.4 L222.9,818.5 L223.4,819.6 L223.9,820.7 L224.5,822.1 L225.1,823.3 L225.6,824.6 L226.2,825.7 L226.8,826.8 L227.5,828.0 L228.2,829.1 L228.9,830.1 L229.8,831.1 L230.7,832.0 L231.5,832.8 L232.5,833.7 L233.5,834.5 L234.4,835.3 L235.5,836.0 L236.6,836.8 L237.6,837.5 L238.7,838.2 L239.8,838.9 L240.8,839.6 L241.9,840.2 L242.9,840.8 L244.0,841.4 L245.1,841.9 L246.1,842.5 L247.3,843.1 L248.4,843.7 L249.6,844.3 L250.8,844.9 L251.9,845.5 L253.1,846.0 L254.2,846.6 L255.4,847.1 L256.6,847.6 L257.7,848.2 L258.9,848.7 L260.0,849.3 L261.2,849.9 L262.3,850.5 L263.3,851.2 L264.3,852.0 L265.3,852.9 L266.2,853.7 L267.3,854.4 L268.4,854.7 L269.7,854.6 L271.0,854.4 L272.1,854.0 L273.3,853.6 L274.4,853.0 L275.6,852.4 L276.7,851.9 L277.7,851.2 L278.8,850.6 L279.8,850.0 L280.9,849.4 L282.0,848.8 L283.0,848.1 L284.1,847.3 L285.1,846.6 L286.0,845.8 L287.0,845.1 L288.0,844.2 L288.9,843.4 L289.9,842.6 L290.9,841.7 L291.8,840.8 L292.7,840.0 L293.6,839.1 L294.4,838.3 L295.3,837.4 L296.2,836.4 L297.0,835.5 L297.9,834.6 L298.8,833.6 L299.7,832.6 L300.5,831.6 L301.4,830.6 L302.2,829.7 L302.9,828.8 L303.7,827.8 L304.5,826.9 L305.3,825.9 L306.0,824.9 L306.8,823.9 L307.6,822.9 L308.4,821.9 L309.1,820.8 L309.9,819.8 L310.7,818.8 L311.4,817.7 L312.2,816.6 L313.0,815.5 L313.8,814.4 L314.5,813.3 L315.3,812.2 L316.0,811.2 L316.7,810.2 L317.3,809.2 L318.0,808.2 L318.7,807.1 L319.4,806.1 L320.0,805.1 L320.7,804.0 L321.4,803.0 L322.1,801.9 L322.7,800.9 L323.4,799.8 L324.1,798.7 L324.8,797.6 L325.5,796.5 L326.1,795.4 L326.8,794.3 L327.5,793.2 L328.2,792.1 L328.8,790.9 L329.5,789.8 L330.2,788.7 L330.9,787.5 L331.5,786.4 L332.2,785.2 L332.9,784.0 L333.6,782.9 L334.2,781.7 L334.9,780.5 L335.6,779.3 L336.3,778.1 L337.0,776.9 L337.6,775.7 L338.3,774.5 L339.0,773.3 L339.7,772.0 L340.2,771.0 L340.8,769.9 L341.4,768.9 L342.0,767.8 L342.6,766.7 L343.1,765.6 L343.7,764.6 L344.3,763.5 L344.9,762.4 L345.5,761.3 L346.0,760.2 L346.6,759.1 L347.2,758.0 L347.8,756.9 L348.4,755.8 L348.9,754.7 L349.5,753.5 L350.1,752.4 L350.7,751.3 L351.3,750.2 L351.8,749.0 L352.4,747.9 L353.0,746.7 L353.6,745.6 L354.1,744.4 L354.7,743.3 L355.3,742.1 L355.9,741.0 L356.5,739.8 L357.0,738.7 L357.6,737.5 L358.2,736.3 L358.8,735.1 L359.4,734.0 L359.9,732.8 L360.5,731.6 L361.1,730.4 L361.7,729.2 L362.3,728.0 L362.8,726.8 L363.4,725.6 L364.0,724.4 L364.6,723.2 L365.2,722.0 L365.7,720.7 L366.3,719.5 L366.9,718.3 L367.5,717.1 L368.1,715.9 L368.6,714.6 L369.2,713.4 L369.8,712.1 L370.4,710.9 L371.0,709.7 L371.5,708.4 L372.1,707.1 L372.7,705.9 L373.3,704.6 L373.9,703.4 L374.4,702.1 L375.0,700.8 L375.6,699.6 L376.2,698.3 L376.8,697.0 L377.3,695.7 L377.9,694.4 L378.5,693.2 L379.1,691.9 L379.7,690.6 L380.2,689.3 L380.8,688.0 L381.4,686.7 L382.0,685.4 L382.6,684.1 L383.1,682.7 L383.7,681.4 L384.2,680.3 L384.7,679.2 L385.2,678.1 L385.6,677.0 L386.1,675.9 L386.6,674.8 L387.1,673.7 L387.6,672.6 L388.1,671.5 L388.5,670.3 L389.0,669.2 L389.5,668.1 L390.0,667.0 L390.5,665.8 L391.0,664.7 L391.4,663.6 L391.9,662.4 L392.4,661.3 L392.9,660.2 L393.4,659.0 L393.9,657.9 L394.3,656.7 L394.8,655.6 L395.3,654.4 L395.8,653.3 L396.3,652.1 L396.8,651.0 L397.2,649.8 L397.7,648.7 L398.2,647.5 L398.7,646.3 L399.2,645.2 L399.7,644.0 L400.1,642.8 L400.6,641.7 L401.1,640.5 L401.6,639.3 L402.1,638.1 L402.6,636.9 L403.0,635.8 L403.5,634.6 L404.0,633.4 L404.5,632.2 L405.0,631.0 L405.5,629.8 L405.9,628.6 L406.4,627.4 L406.9,626.2 L407.4,625.0 L407.9,623.8 L408.4,622.6 L408.8,621.4 L409.3,620.1 L409.8,618.9 L410.3,617.7 L410.8,616.5 L411.3,615.3 L411.7,614.0 L412.2,612.8 L412.7,611.6 L413.2,610.3 L413.7,609.1 L414.2,607.9 L414.6,606.6 L415.1,605.4 L415.6,604.1 L416.1,602.9 L416.6,601.6 L417.0,600.4 L417.5,599.1 L418.0,597.9 L418.5,596.6 L419.0,595.4 L419.5,594.1 L419.9,592.8 L420.4,591.6 L420.9,590.3 L421.4,589.0 L421.9,587.7 L422.4,586.4 L422.8,585.2 L423.3,583.9 L423.8,582.6 L424.3,581.3 L424.8,580.0 L425.3,578.7 L425.7,577.4 L426.2,576.1 L426.7,574.8 L427.2,573.5 L427.7,572.2 L428.2,570.9 L428.6,569.6 L429.1,568.3 L429.6,566.9 L430.1,565.6 L430.6,564.3 L431.1,563.0 L431.5,561.6 L432.0,560.3 L432.5,559.0 L433.0,557.6 L433.5,556.3 L434.0,555.0 L434.4,553.6 L434.9,552.3 L435.4,550.9 L435.9,549.6 L436.4,548.2 L436.9,546.8 L437.3,545.5 L437.8,544.1 L438.3,542.7 L438.8,541.4 L439.3,540.0 L439.8,538.6 L440.2,537.2 L440.7,535.9 L441.2,534.5 L441.7,533.1 L442.2,531.7 L442.7,530.3 L443.1,528.9 L443.6,527.5 L444.1,526.1 L444.6,524.7 L445.1,523.3 L445.6,521.9 L446.0,520.5 L446.5,519.1 L447.0,517.6 L447.4,516.5 L447.8,515.4 L448.2,514.2 L448.5,513.1 L448.9,511.9 L449.3,510.8 L449.7,509.6 L450.1,508.5 L450.5,507.3 L450.9,506.2 L451.3,505.0 L451.6,503.8 L452.0,502.7 L452.4,501.5 L452.8,500.4 L453.2,499.2 L453.6,498.0 L454.0,496.8 L454.3,495.7 L454.7,494.5 L455.1,493.3 L455.5,492.1 L455.9,491.0 L456.3,489.8 L456.7,488.6 L457.0,487.4 L457.4,486.2 L457.8,485.0 L458.2,483.8 L458.6,482.6 L459.0,481.4 L459.4,480.2 L459.8,479.0 L460.1,477.8 L460.5,476.6 L460.9,475.4 L461.3,474.2 L461.7,473.0 L462.1,471.7 L462.4,470.8" fill="none" stroke="#ff8000" stroke-width="2"/>
<path d="M81.3,854.7H502" stroke="#000" stroke-width="2" stroke-dasharray="2 2.45" fill="none"/>
<path d="M570.0,680.4h10.2v10.2h-10.2z" fill="none" stroke="#000" stroke-width="2.3" stroke-linejoin="round"/>
<text stroke="#000" stroke-width="0.6" x="610.6" y="695.0" font-size="26">0</text>
<path d="M569.4,717.0a5.75,5.75 0 1,0 11.5,0a5.75,5.75 0 1,0 -11.5,0z" fill="none" stroke="#000080" stroke-width="2.3" stroke-linejoin="round"/>
<text stroke="#000" stroke-width="0.6" x="610.6" y="726.0" font-size="26">1.1</text>
<path d="M575.1,740.4L582.3,752.5H567.9z" fill="none" stroke="#0000ff" stroke-width="2.3" stroke-linejoin="round"/>
<text stroke="#000" stroke-width="0.6" x="610.6" y="757.3" font-size="26">1.6</text>
<path d="M575.1,787.6L582.3,775.5H567.9z" fill="none" stroke="#8000ff" stroke-width="2.3" stroke-linejoin="round"/>
<text stroke="#000" stroke-width="0.6" x="610.6" y="789.9" font-size="26">2.3</text>
<path d="M575.1,804.5L582.7,811.5L575.1,818.5L567.5,811.5z" fill="none" stroke="#00ff00" stroke-width="2.3" stroke-linejoin="round"/>
<text stroke="#000" stroke-width="0.6" x="610.6" y="820.9" font-size="26">3.5</text>
<path d="M575.1,836.8L581.7,841.6L579.2,849.3L571.0,849.3L568.5,841.6z" fill="none" stroke="#ff00ff" stroke-width="2.3" stroke-linejoin="round"/>
<text stroke="#000" stroke-width="0.6" x="610.6" y="852.3" font-size="26">4.0</text>
<path d="M575.1,868.1L580.7,871.4L580.7,877.9L575.1,881.1L569.5,877.9L569.5,871.4z" fill="none" stroke="#ff8000" stroke-width="2.3" stroke-linejoin="round"/>
<text stroke="#000" stroke-width="0.6" x="610.6" y="883.4" font-size="26">4.7</text>
<rect x="611.38" y="723.04" width="5.64" height="4.26" fill="#fff"/>
<rect x="619.39" y="723.04" width="5.77" height="4.26" fill="#fff"/>
<rect x="633.06" y="723.04" width="5.64" height="4.26" fill="#fff"/>
<rect x="641.07" y="723.04" width="5.77" height="4.26" fill="#fff"/>
<rect x="611.38" y="754.34" width="5.64" height="4.26" fill="#fff"/>
<rect x="619.39" y="754.34" width="5.77" height="4.26" fill="#fff"/>
<text stroke="#000" stroke-width="0.6" x="588.4" y="653.8" font-size="26">B</text>
<text stroke="#000" stroke-width="0.6" x="606.5" y="663.3" font-size="17">z</text>
<text stroke="#000" stroke-width="0.6" x="620.2" y="653.8" font-size="26" textLength="55.5" lengthAdjust="spacingAndGlyphs">(mT)</text>
</svg></body></html>
